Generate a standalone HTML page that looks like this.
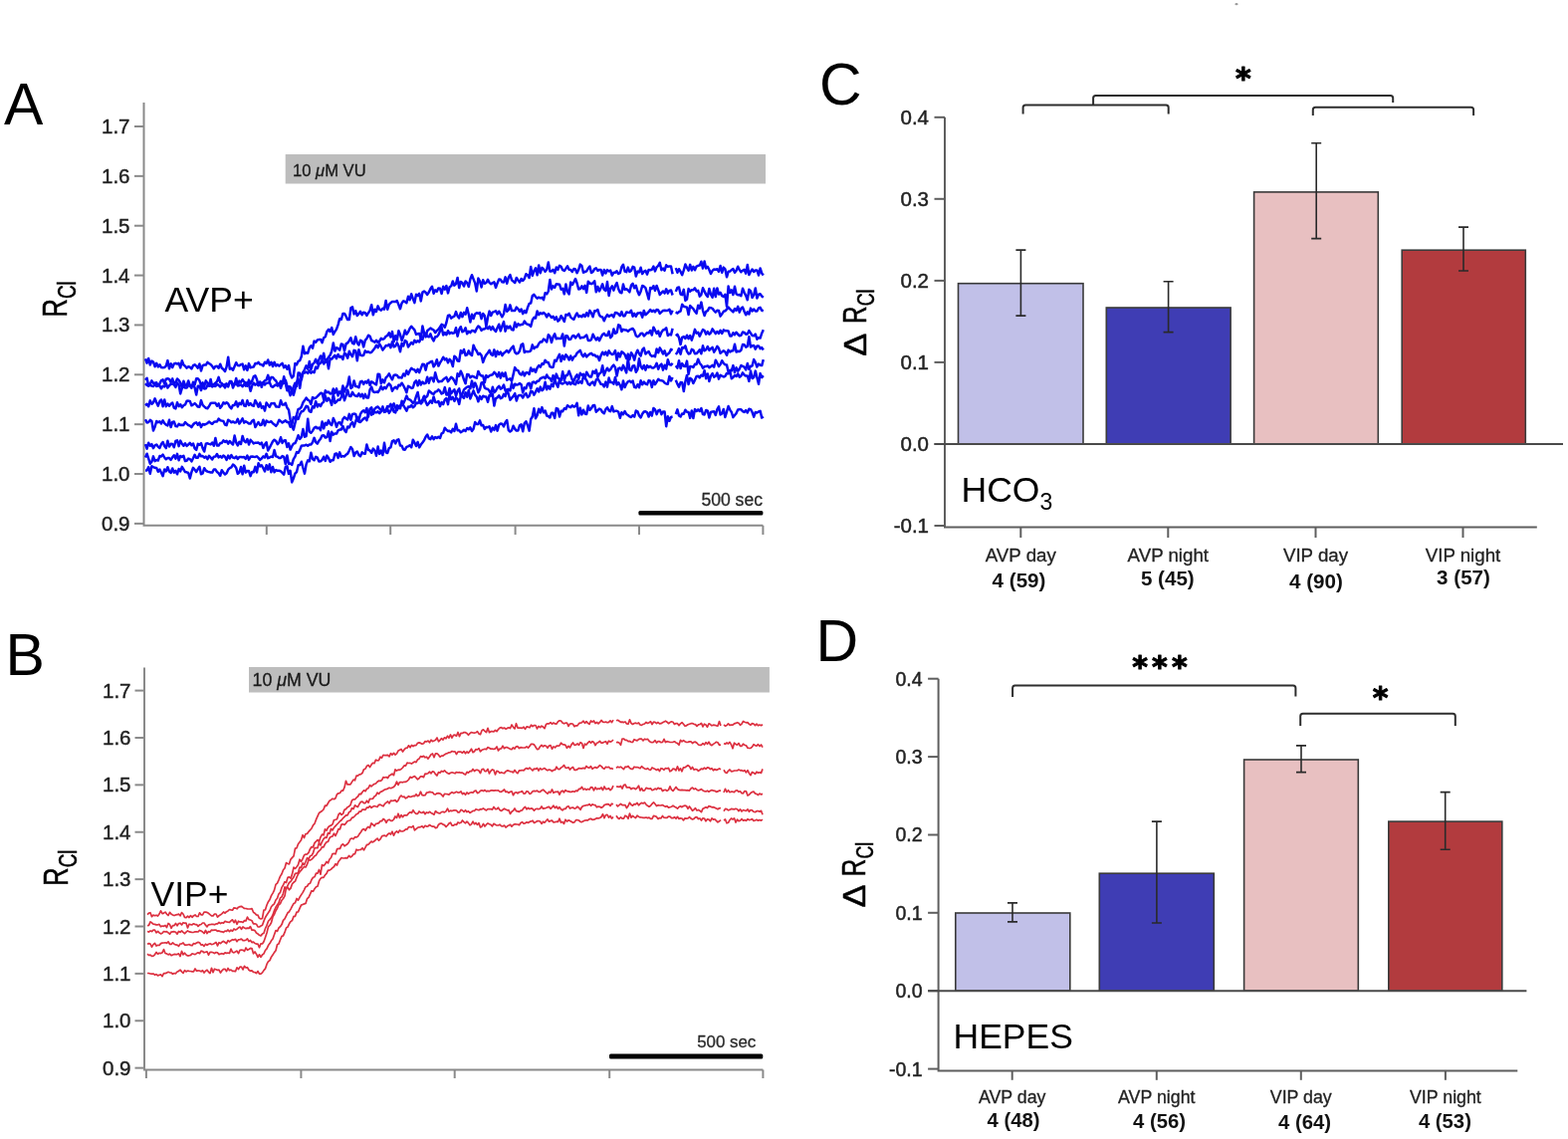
<!DOCTYPE html><html><head><meta charset="utf-8"><title>Figure</title><style>
html,body{margin:0;padding:0;background:#fff;overflow:hidden;}svg{display:block;}
text{font-family:"Liberation Sans", Arial, Helvetica, sans-serif;}
</style></head><body>
<svg width="1575" height="1144" viewBox="0 0 1575 1144">
<rect width="1575" height="1144" fill="#fff"/>
<g stroke="#8a8a8a" stroke-width="2" fill="none">
<path d="M144.5,103 V527.8 H766.4"/>
<path d="M135.0,127.0 H144.5"/>
<path d="M135.0,176.86 H144.5"/>
<path d="M135.0,226.72 H144.5"/>
<path d="M135.0,276.58 H144.5"/>
<path d="M135.0,326.44 H144.5"/>
<path d="M135.0,376.3 H144.5"/>
<path d="M135.0,426.15999999999997 H144.5"/>
<path d="M135.0,476.02 H144.5"/>
<path d="M135.0,525.88 H144.5"/>
<path d="M267.8,527.8 V537"/>
<path d="M392.2,527.8 V537"/>
<path d="M517.6,527.8 V537"/>
<path d="M642.0,527.8 V537"/>
<path d="M766.4,527.8 V537"/>
</g>
<text x="130.5" y="134.0" font-size="20.5" text-anchor="end" font-weight="normal" fill="#222" stroke="#222" stroke-width="0.45">1.7</text>
<text x="130.5" y="183.9" font-size="20.5" text-anchor="end" font-weight="normal" fill="#222" stroke="#222" stroke-width="0.45">1.6</text>
<text x="130.5" y="233.7" font-size="20.5" text-anchor="end" font-weight="normal" fill="#222" stroke="#222" stroke-width="0.45">1.5</text>
<text x="130.5" y="283.6" font-size="20.5" text-anchor="end" font-weight="normal" fill="#222" stroke="#222" stroke-width="0.45">1.4</text>
<text x="130.5" y="333.4" font-size="20.5" text-anchor="end" font-weight="normal" fill="#222" stroke="#222" stroke-width="0.45">1.3</text>
<text x="130.5" y="383.3" font-size="20.5" text-anchor="end" font-weight="normal" fill="#222" stroke="#222" stroke-width="0.45">1.2</text>
<text x="130.5" y="433.2" font-size="20.5" text-anchor="end" font-weight="normal" fill="#222" stroke="#222" stroke-width="0.45">1.1</text>
<text x="130.5" y="483.0" font-size="20.5" text-anchor="end" font-weight="normal" fill="#222" stroke="#222" stroke-width="0.45">1.0</text>
<text x="130.5" y="532.9" font-size="20.5" text-anchor="end" font-weight="normal" fill="#222" stroke="#222" stroke-width="0.45">0.9</text>
<rect x="286.7" y="155" width="482.3" height="29.5" fill="#bdbdbd"/>
<text x="294" y="176.7" font-size="16.6" text-anchor="start" font-weight="normal" fill="#1a1a1a" stroke="#1a1a1a" stroke-width="0.3">10 <tspan font-style="italic">μ</tspan>M VU</text>
<rect x="641.4" y="513.1" width="125" height="4.5" rx="1.5" fill="#000"/>
<text x="766" y="508.4" font-size="17.6" text-anchor="end" font-weight="normal" fill="#2a2a2a" stroke="#2a2a2a" stroke-width="0.3">500 sec</text>
<text x="4" y="124.9" font-size="59" text-anchor="start" font-weight="normal" fill="#000" >A</text>
<text x="165.5" y="312.7" font-size="35.5" text-anchor="start" font-weight="normal" fill="#000" >AVP+</text>
<text transform="translate(67.3,318.7) rotate(-90) scale(0.74,1)" font-size="35" fill="#000" stroke="#000" stroke-width="0.5">R<tspan font-size="25.5" dy="8.7">Cl</tspan></text>
<g fill="none" stroke="#0a0af0" stroke-width="2.5" stroke-linejoin="round">
<path d="M146.0,360.4 147.6,364.6 149.2,360.0 150.8,366.4 152.4,362.6 154.0,363.5 155.6,368.2 157.2,364.8 158.8,368.4 160.4,366.2 162.0,369.1 163.6,369.2 165.2,369.0 166.8,367.6 168.4,362.1 170.0,370.3 171.6,365.3 173.2,369.1 174.8,365.5 176.4,364.8 178.0,365.6 179.6,364.9 181.2,369.4 182.8,362.3 184.4,366.5 186.0,367.7 187.6,369.6 189.2,368.3 190.8,368.8 192.4,370.4 194.0,367.2 195.6,366.3 197.2,367.6 198.8,369.6 200.4,365.5 202.0,372.5 203.6,367.2 205.2,366.5 206.8,366.6 208.4,363.9 210.0,365.1 211.6,366.0 213.2,367.8 214.8,370.3 216.4,367.9 218.0,367.8 219.6,369.8 221.2,365.7 222.8,369.8 224.4,370.9 226.0,373.0 227.6,368.4 229.2,358.7 230.8,370.7 232.4,369.8 234.0,371.8 235.6,368.1 237.2,364.2 238.8,367.0 240.4,367.2 242.0,366.1 243.6,365.6 245.2,371.3 246.8,367.3 248.4,371.9 250.0,365.1 251.6,369.3 253.2,368.7 254.8,368.6 256.4,364.9 258.0,365.3 259.6,363.9 261.2,366.1 262.8,366.2 264.4,367.4 266.0,363.7 267.6,365.0 269.2,361.5 270.8,366.7 272.4,363.8 274.0,368.0 275.6,363.8 277.2,367.5 278.8,366.2 280.4,367.6 282.0,366.1 283.6,364.9 285.2,369.2 286.8,367.3 288.4,370.8 290.0,367.1 291.6,375.8 293.2,379.4 294.8,377.7 296.4,365.1 298.0,366.2 299.6,362.8 301.2,362.1 302.8,358.0 304.4,347.8 306.0,355.2 307.6,354.3 309.2,354.7 310.8,349.3 312.4,347.2 314.0,349.6 315.6,342.6 317.2,343.7 318.8,341.5 320.4,341.1 322.0,340.9 323.6,344.1 325.2,339.2 326.8,338.2 328.4,333.1 330.0,330.9 331.6,333.1 333.2,329.1 334.8,335.9 336.4,333.0 338.0,330.6 339.6,326.1 341.2,320.2 342.8,321.0 344.4,315.0 346.0,315.0 347.6,317.7 349.2,321.1 350.8,321.1 352.4,309.4 354.0,308.3 355.6,315.4 357.2,312.2 358.8,317.0 360.4,315.2 362.0,312.8 363.6,316.3 365.2,313.7 366.8,314.2 368.4,316.9 370.0,314.2 371.6,311.9 373.2,306.2 374.8,316.3 376.4,310.8 378.0,312.9 379.6,307.4 381.2,310.8 382.8,311.6 384.4,309.7 386.0,310.6 387.6,301.9 389.2,310.8 390.8,305.8 392.4,304.2 394.0,302.9 395.6,303.1 397.2,303.1 398.8,302.1 400.4,306.0 402.0,310.2 403.6,304.4 405.2,302.3 406.8,303.0 408.4,304.3 410.0,297.7 411.6,301.3 413.2,295.3 414.8,300.0 416.4,304.1 418.0,295.8 419.6,296.9 421.2,294.9 422.8,302.4 424.4,293.6 426.0,292.6 427.6,293.7 429.2,295.9 430.8,293.5 432.4,289.9 434.0,287.7 435.6,294.7 437.2,291.4 438.8,292.8 440.4,289.4 442.0,289.8 443.6,294.9 445.2,287.8 446.8,290.7 448.4,287.1 450.0,294.4 451.6,288.3 453.2,287.3 454.8,282.5 456.4,286.7 458.0,285.1 459.6,278.9 461.2,289.1 462.8,282.9 464.4,284.1 466.0,287.5 467.6,282.5 469.2,284.1 470.8,288.0 472.4,280.3 474.0,276.2 475.6,280.4 477.2,284.4 478.8,292.4 480.4,279.6 482.0,282.4 483.6,288.5 485.2,281.3 486.8,284.8 488.4,284.0 490.0,280.8 491.6,283.9 493.2,285.2 494.8,284.1 496.4,283.4 498.0,288.8 499.6,284.4 501.2,280.6 502.8,280.8 504.4,283.3 506.0,283.5 507.6,278.4 509.2,284.7 510.8,278.7 512.4,276.1 514.0,281.2 515.6,282.6 517.2,284.0 518.8,279.0 520.4,281.4 522.0,283.5 523.6,280.0 525.2,281.9 526.8,279.9 528.4,275.2 530.0,276.3 531.6,279.0 533.2,268.0 534.8,276.9 536.4,272.2 538.0,269.3 539.6,276.3 541.2,266.4 542.8,274.2 544.4,268.9 546.0,270.3 547.6,272.8 549.2,270.7 550.8,263.4 552.4,272.6 554.0,272.4 555.6,270.9 557.2,274.1 558.8,268.5 560.4,270.9 562.0,266.8 563.6,267.8 565.2,271.2 566.8,272.0 568.4,269.8 570.0,267.4 571.6,270.7 573.2,271.0 574.8,273.0 576.4,270.0 578.0,270.5 579.6,274.2 581.2,270.8 582.8,265.6 584.4,267.0 586.0,273.7 587.6,273.0 589.2,272.4 590.8,269.6 592.4,267.6 594.0,274.0 595.6,272.9 597.2,270.2 598.8,269.3 600.4,271.8 602.0,270.9 603.6,271.1 605.2,276.5 606.8,271.0 608.4,274.5 610.0,271.1 611.6,272.4 613.2,271.6 614.8,276.5 616.4,273.8 618.0,273.7 619.6,272.3 621.2,275.0 622.8,274.2 624.4,268.2 626.0,265.8 627.6,272.6 629.2,273.2 630.8,268.6 632.4,272.9 634.0,271.8 635.6,267.9 637.2,268.6 638.8,277.5 640.4,272.6 642.0,273.5 643.6,268.8 645.2,275.1 646.8,272.8 648.4,271.8 650.0,275.6 651.6,270.9 653.2,271.2 654.8,270.8 656.4,267.6 658.0,272.4 659.6,268.3 661.2,266.8 662.8,263.9 664.4,271.2 666.0,269.5 667.6,271.7 669.2,266.3 670.8,267.8 672.4,267.6 674.0,267.5 675.6,275.2M678.8,269.2 680.4,273.7 682.0,270.2 683.6,272.9 685.2,276.1 686.8,271.4 688.4,265.5 690.0,268.9 691.6,271.7 693.2,265.9 694.8,271.5 696.4,267.8 698.0,271.3 699.6,267.6 701.2,266.8 702.8,266.6 704.4,262.7 706.0,269.6 707.6,262.5 709.2,269.5 710.8,267.8 712.4,271.0 714.0,275.0 715.6,271.9 717.2,270.5 718.8,270.7 720.4,270.3 722.0,272.7 723.6,267.0 725.2,273.8 726.8,268.6 728.4,270.3 730.0,278.3 731.6,272.8 733.2,272.5 734.8,271.1 736.4,270.1 738.0,273.8 739.6,271.7 741.2,267.7 742.8,271.1 744.4,273.2 746.0,271.7 747.6,270.7 749.2,274.7 750.8,266.0 752.4,276.0 754.0,272.7 755.6,270.5 757.2,273.0 758.8,271.5 760.4,271.4 762.0,276.5 763.6,269.4 765.2,274.4 766.8,276.6"/>
<path d="M146.0,381.8 147.6,379.8 149.2,387.7 150.8,385.8 152.4,382.4 154.0,384.7 155.6,384.8 157.2,384.2 158.8,387.4 160.4,385.4 162.0,382.1 163.6,381.4 165.2,385.4 166.8,380.6 168.4,380.2 170.0,380.9 171.6,384.0 173.2,380.4 174.8,385.7 176.4,384.0 178.0,380.5 179.6,381.9 181.2,384.5 182.8,389.6 184.4,382.8 186.0,387.0 187.6,387.3 189.2,382.5 190.8,387.5 192.4,389.8 194.0,383.8 195.6,386.5 197.2,380.3 198.8,380.2 200.4,382.3 202.0,386.8 203.6,384.4 205.2,387.9 206.8,382.4 208.4,384.7 210.0,387.6 211.6,380.9 213.2,388.5 214.8,386.2 216.4,384.6 218.0,383.1 219.6,378.9 221.2,384.2 222.8,385.0 224.4,387.6 226.0,386.3 227.6,385.2 229.2,388.5 230.8,383.1 232.4,383.0 234.0,389.5 235.6,385.6 237.2,384.7 238.8,387.5 240.4,382.6 242.0,383.9 243.6,381.2 245.2,383.7 246.8,384.4 248.4,387.8 250.0,381.6 251.6,385.5 253.2,382.6 254.8,378.2 256.4,377.3 258.0,381.0 259.6,386.8 261.2,383.5 262.8,388.8 264.4,384.0 266.0,382.3 267.6,381.5 269.2,376.9 270.8,382.9 272.4,378.9 274.0,379.0 275.6,381.1 277.2,382.5 278.8,385.6 280.4,386.8 282.0,382.8 283.6,385.7 285.2,378.2 286.8,385.3 288.4,392.2 290.0,388.3 291.6,388.5 293.2,393.8 294.8,388.6 296.4,384.7 298.0,388.0 299.6,374.6 301.2,374.7 302.8,381.4 304.4,374.0 306.0,371.1 307.6,367.3 309.2,370.8 310.8,362.9 312.4,371.1 314.0,365.8 315.6,364.3 317.2,360.9 318.8,365.1 320.4,361.3 322.0,357.5 323.6,360.6 325.2,354.9 326.8,363.8 328.4,361.4 330.0,358.8 331.6,356.7 333.2,352.8 334.8,344.4 336.4,352.6 338.0,349.2 339.6,350.1 341.2,351.6 342.8,345.6 344.4,345.9 346.0,352.5 347.6,345.4 349.2,344.4 350.8,342.2 352.4,339.3 354.0,344.7 355.6,345.5 357.2,338.2 358.8,344.4 360.4,346.5 362.0,341.8 363.6,342.6 365.2,348.4 366.8,341.9 368.4,340.0 370.0,336.7 371.6,337.8 373.2,342.0 374.8,342.7 376.4,343.8 378.0,341.7 379.6,344.0 381.2,342.7 382.8,339.9 384.4,340.8 386.0,340.1 387.6,337.8 389.2,337.0 390.8,334.3 392.4,338.5 394.0,333.1 395.6,343.3 397.2,337.3 398.8,341.5 400.4,332.3 402.0,336.1 403.6,342.0 405.2,337.8 406.8,331.8 408.4,335.7 410.0,333.6 411.6,329.9 413.2,327.7 414.8,329.6 416.4,331.4 418.0,335.9 419.6,335.3 421.2,335.1 422.8,340.1 424.4,327.6 426.0,334.3 427.6,338.4 429.2,332.3 430.8,330.9 432.4,329.6 434.0,330.6 435.6,331.5 437.2,334.2 438.8,332.1 440.4,330.8 442.0,328.5 443.6,325.9 445.2,326.6 446.8,328.8 448.4,324.0 450.0,316.9 451.6,316.5 453.2,319.6 454.8,318.4 456.4,317.7 458.0,313.1 459.6,317.4 461.2,319.5 462.8,314.0 464.4,318.2 466.0,313.9 467.6,315.7 469.2,309.2 470.8,315.7 472.4,323.5 474.0,315.7 475.6,320.0 477.2,315.4 478.8,314.2 480.4,314.8 482.0,314.1 483.6,320.1 485.2,315.0 486.8,317.0 488.4,328.0 490.0,318.7 491.6,312.6 493.2,317.0 494.8,313.6 496.4,313.1 498.0,312.3 499.6,315.5 501.2,312.7 502.8,315.5 504.4,318.3 506.0,315.2 507.6,306.1 509.2,312.8 510.8,311.4 512.4,306.4 514.0,312.1 515.6,312.1 517.2,312.1 518.8,308.6 520.4,310.4 522.0,312.7 523.6,310.5 525.2,315.1 526.8,312.1 528.4,314.1 530.0,308.9 531.6,304.9 533.2,304.5 534.8,297.0 536.4,295.9 538.0,298.1 539.6,299.6 541.2,298.7 542.8,299.4 544.4,298.8 546.0,301.1 547.6,294.3 549.2,295.3 550.8,292.5 552.4,281.0 554.0,290.4 555.6,287.3 557.2,288.8 558.8,285.3 560.4,285.4 562.0,285.7 563.6,290.6 565.2,289.8 566.8,295.3 568.4,285.4 570.0,292.8 571.6,295.4 573.2,283.5 574.8,286.0 576.4,283.3 578.0,280.0 579.6,284.5 581.2,290.4 582.8,290.1 584.4,287.4 586.0,290.2 587.6,286.8 589.2,293.9 590.8,282.7 592.4,284.5 594.0,285.2 595.6,284.4 597.2,282.3 598.8,293.3 600.4,287.9 602.0,292.4 603.6,289.1 605.2,285.3 606.8,290.8 608.4,292.0 610.0,283.1 611.6,296.9 613.2,289.7 614.8,287.4 616.4,291.6 618.0,287.0 619.6,284.0 621.2,290.3 622.8,293.6 624.4,294.3 626.0,285.6 627.6,291.0 629.2,290.2 630.8,291.5 632.4,293.3 634.0,286.7 635.6,284.9 637.2,289.3 638.8,286.9 640.4,292.5 642.0,296.2 643.6,292.7 645.2,287.0 646.8,287.7 648.4,289.1 650.0,294.7 651.6,300.5 653.2,289.1 654.8,290.0 656.4,287.2 658.0,291.8 659.6,287.0 661.2,291.1 662.8,296.0 664.4,294.1 666.0,292.5 667.6,294.6 669.2,290.3 670.8,294.6 672.4,291.9 674.0,291.5 675.6,296.5M678.8,292.9 680.4,288.9 682.0,288.5 683.6,295.5 685.2,296.1 686.8,290.9 688.4,301.9 690.0,300.5 691.6,290.1 693.2,292.6 694.8,291.2 696.4,291.3 698.0,289.4 699.6,292.5 701.2,291.8 702.8,297.6 704.4,295.8 706.0,289.2 707.6,292.6 709.2,295.9 710.8,297.9 712.4,290.0 714.0,295.7 715.6,298.8 717.2,289.7 718.8,298.1 720.4,289.4 722.0,295.5 723.6,293.9 725.2,297.1 726.8,298.0 728.4,295.7 730.0,307.8 731.6,287.6 733.2,294.0 734.8,291.3 736.4,296.0 738.0,287.7 739.6,295.3 741.2,296.3 742.8,296.1 744.4,297.1 746.0,289.7 747.6,293.8 749.2,296.8 750.8,301.2 752.4,290.8 754.0,292.4 755.6,298.9 757.2,296.1 758.8,289.4 760.4,299.6 762.0,295.7 763.6,295.2 765.2,297.5 766.8,298.7"/>
<path d="M146.0,385.2 147.6,387.0 149.2,387.3 150.8,386.6 152.4,387.6 154.0,388.1 155.6,385.8 157.2,388.0 158.8,387.2 160.4,387.3 162.0,390.3 163.6,387.7 165.2,388.5 166.8,385.1 168.4,389.5 170.0,387.3 171.6,385.7 173.2,385.4 174.8,386.3 176.4,388.9 178.0,384.4 179.6,386.6 181.2,395.4 182.8,390.0 184.4,387.8 186.0,389.6 187.6,389.4 189.2,387.2 190.8,386.7 192.4,387.8 194.0,387.1 195.6,389.2 197.2,396.6 198.8,387.8 200.4,387.8 202.0,392.0 203.6,387.0 205.2,390.4 206.8,390.3 208.4,386.9 210.0,386.8 211.6,387.6 213.2,386.2 214.8,387.8 216.4,387.9 218.0,385.9 219.6,386.9 221.2,388.5 222.8,386.5 224.4,386.5 226.0,389.4 227.6,386.2 229.2,386.8 230.8,384.3 232.4,383.6 234.0,386.0 235.6,386.5 237.2,380.0 238.8,386.8 240.4,387.2 242.0,386.4 243.6,388.3 245.2,385.8 246.8,387.6 248.4,384.3 250.0,386.2 251.6,392.8 253.2,387.3 254.8,384.6 256.4,386.6 258.0,385.4 259.6,387.3 261.2,383.8 262.8,385.5 264.4,384.4 266.0,386.4 267.6,384.7 269.2,384.5 270.8,384.1 272.4,387.9 274.0,388.8 275.6,387.4 277.2,386.4 278.8,387.6 280.4,385.1 282.0,389.8 283.6,384.8 285.2,384.8 286.8,381.9 288.4,387.1 290.0,391.8 291.6,397.2 293.2,392.7 294.8,396.8 296.4,390.9 298.0,384.7 299.6,380.4 301.2,389.8 302.8,378.8 304.4,374.0 306.0,374.5 307.6,373.5 309.2,374.9 310.8,372.2 312.4,374.6 314.0,373.3 315.6,374.2 317.2,368.6 318.8,370.0 320.4,365.6 322.0,364.6 323.6,361.6 325.2,365.5 326.8,363.1 328.4,361.0 330.0,370.2 331.6,360.2 333.2,360.6 334.8,358.6 336.4,356.9 338.0,360.1 339.6,356.0 341.2,358.7 342.8,357.9 344.4,361.0 346.0,354.8 347.6,355.7 349.2,359.7 350.8,352.8 352.4,356.2 354.0,358.1 355.6,351.8 357.2,352.5 358.8,362.2 360.4,351.2 362.0,356.6 363.6,357.2 365.2,356.8 366.8,352.4 368.4,353.7 370.0,353.2 371.6,354.2 373.2,353.8 374.8,351.8 376.4,349.8 378.0,346.7 379.6,349.2 381.2,345.5 382.8,348.1 384.4,351.6 386.0,349.5 387.6,347.1 389.2,347.3 390.8,345.8 392.4,349.2 394.0,343.4 395.6,348.4 397.2,347.6 398.8,344.4 400.4,347.4 402.0,353.2 403.6,344.8 405.2,347.5 406.8,342.0 408.4,343.0 410.0,348.5 411.6,346.3 413.2,344.1 414.8,345.7 416.4,341.8 418.0,343.7 419.6,342.3 421.2,343.4 422.8,339.6 424.4,341.0 426.0,335.7 427.6,334.7 429.2,337.9 430.8,338.4 432.4,335.4 434.0,339.7 435.6,342.4 437.2,338.2 438.8,338.3 440.4,336.2 442.0,332.4 443.6,328.7 445.2,336.6 446.8,334.0 448.4,336.3 450.0,332.2 451.6,335.1 453.2,333.9 454.8,334.8 456.4,334.4 458.0,329.3 459.6,337.7 461.2,331.2 462.8,328.2 464.4,333.3 466.0,332.5 467.6,329.4 469.2,335.3 470.8,332.7 472.4,334.1 474.0,331.9 475.6,332.2 477.2,333.4 478.8,330.0 480.4,327.5 482.0,328.8 483.6,331.9 485.2,330.5 486.8,330.5 488.4,328.8 490.0,330.1 491.6,327.9 493.2,331.2 494.8,328.1 496.4,331.1 498.0,333.0 499.6,329.3 501.2,325.7 502.8,332.4 504.4,327.5 506.0,323.1 507.6,332.7 509.2,327.6 510.8,329.5 512.4,327.7 514.0,331.1 515.6,331.4 517.2,323.8 518.8,328.4 520.4,325.2 522.0,326.6 523.6,326.0 525.2,325.8 526.8,322.5 528.4,325.0 530.0,325.8 531.6,326.3 533.2,327.8 534.8,321.5 536.4,318.9 538.0,319.6 539.6,312.4 541.2,316.2 542.8,314.2 544.4,315.2 546.0,314.0 547.6,315.4 549.2,318.4 550.8,315.2 552.4,317.0 554.0,318.9 555.6,317.8 557.2,321.0 558.8,318.4 560.4,322.6 562.0,321.3 563.6,317.2 565.2,319.6 566.8,323.0 568.4,316.0 570.0,316.6 571.6,314.8 573.2,318.6 574.8,319.9 576.4,320.8 578.0,317.2 579.6,314.5 581.2,318.1 582.8,317.2 584.4,318.3 586.0,316.1 587.6,318.0 589.2,314.2 590.8,317.5 592.4,311.9 594.0,314.4 595.6,318.3 597.2,312.3 598.8,312.4 600.4,311.0 602.0,316.3 603.6,318.1 605.2,318.5 606.8,322.3 608.4,318.6 610.0,316.1 611.6,317.9 613.2,316.8 614.8,316.3 616.4,318.4 618.0,313.9 619.6,314.3 621.2,315.4 622.8,317.1 624.4,313.1 626.0,317.4 627.6,317.3 629.2,313.6 630.8,313.8 632.4,313.9 634.0,311.8 635.6,317.7 637.2,314.8 638.8,317.8 640.4,314.6 642.0,314.4 643.6,314.0 645.2,318.7 646.8,311.9 648.4,316.2 650.0,314.8 651.6,313.2 653.2,311.1 654.8,312.9 656.4,311.7 658.0,313.4 659.6,311.0 661.2,311.5 662.8,314.9 664.4,313.4 666.0,311.9 667.6,311.7 669.2,312.0 670.8,311.7 672.4,310.7 674.0,315.3 675.6,311.7M678.8,313.2 680.4,314.6 682.0,313.2 683.6,312.5 685.2,305.7 686.8,307.8 688.4,308.2 690.0,308.6 691.6,316.0 693.2,307.0 694.8,308.7 696.4,310.1 698.0,312.8 699.6,314.7 701.2,306.7 702.8,309.8 704.4,303.6 706.0,311.8 707.6,317.0 709.2,312.9 710.8,312.1 712.4,309.0 714.0,309.2 715.6,309.8 717.2,312.0 718.8,313.7 720.4,311.8 722.0,312.0 723.6,317.6 725.2,315.3 726.8,312.8 728.4,312.3 730.0,310.6 731.6,308.6 733.2,310.3 734.8,311.9 736.4,313.4 738.0,310.1 739.6,311.8 741.2,307.9 742.8,313.6 744.4,309.8 746.0,308.6 747.6,312.7 749.2,316.3 750.8,313.3 752.4,315.5 754.0,309.6 755.6,312.5 757.2,310.5 758.8,312.5 760.4,312.4 762.0,309.5 763.6,308.9 765.2,311.8 766.8,312.3"/>
<path d="M146.0,407.2 147.6,405.8 149.2,408.2 150.8,402.4 152.4,405.8 154.0,404.3 155.6,400.3 157.2,404.2 158.8,407.7 160.4,403.1 162.0,401.5 163.6,408.2 165.2,401.4 166.8,408.2 168.4,405.6 170.0,407.7 171.6,405.8 173.2,404.6 174.8,409.7 176.4,410.4 178.0,404.3 179.6,408.1 181.2,406.2 182.8,409.1 184.4,407.2 186.0,406.4 187.6,402.8 189.2,402.6 190.8,403.0 192.4,407.3 194.0,406.4 195.6,405.1 197.2,406.7 198.8,408.6 200.4,408.7 202.0,402.1 203.6,406.8 205.2,408.4 206.8,409.8 208.4,410.2 210.0,408.0 211.6,405.1 213.2,404.8 214.8,404.7 216.4,404.7 218.0,407.8 219.6,405.4 221.2,409.8 222.8,407.8 224.4,404.3 226.0,405.5 227.6,404.2 229.2,405.5 230.8,408.7 232.4,410.3 234.0,406.9 235.6,407.1 237.2,403.3 238.8,408.4 240.4,404.8 242.0,406.1 243.6,402.0 245.2,407.5 246.8,407.9 248.4,402.3 250.0,406.9 251.6,405.1 253.2,407.2 254.8,407.8 256.4,402.1 258.0,405.1 259.6,408.7 261.2,404.5 262.8,409.7 264.4,408.1 266.0,412.5 267.6,404.5 269.2,406.8 270.8,408.8 272.4,405.3 274.0,405.3 275.6,405.1 277.2,408.4 278.8,408.6 280.4,408.7 282.0,402.2 283.6,406.5 285.2,406.6 286.8,404.8 288.4,409.6 290.0,411.8 291.6,421.3 293.2,427.1 294.8,419.1 296.4,420.4 298.0,416.7 299.6,410.9 301.2,410.5 302.8,408.6 304.4,404.2 306.0,402.1 307.6,399.6 309.2,401.7 310.8,402.5 312.4,406.0 314.0,399.1 315.6,400.2 317.2,399.6 318.8,398.1 320.4,396.5 322.0,394.8 323.6,395.1 325.2,401.3 326.8,392.3 328.4,394.2 330.0,393.6 331.6,395.5 333.2,395.3 334.8,390.5 336.4,394.7 338.0,390.4 339.6,397.4 341.2,393.3 342.8,395.6 344.4,387.6 346.0,393.5 347.6,389.5 349.2,386.8 350.8,378.6 352.4,389.9 354.0,388.8 355.6,382.4 357.2,388.1 358.8,388.3 360.4,389.3 362.0,383.4 363.6,382.8 365.2,385.9 366.8,383.2 368.4,384.6 370.0,381.7 371.6,386.9 373.2,383.3 374.8,384.3 376.4,385.5 378.0,386.4 379.6,375.7 381.2,376.0 382.8,385.3 384.4,381.4 386.0,384.3 387.6,379.4 389.2,377.8 390.8,375.3 392.4,378.6 394.0,381.3 395.6,377.0 397.2,376.5 398.8,376.9 400.4,379.2 402.0,379.1 403.6,379.5 405.2,375.5 406.8,377.5 408.4,372.4 410.0,376.0 411.6,372.4 413.2,369.9 414.8,371.0 416.4,371.5 418.0,373.8 419.6,370.9 421.2,374.1 422.8,369.9 424.4,365.7 426.0,365.9 427.6,371.7 429.2,365.3 430.8,364.6 432.4,363.5 434.0,362.8 435.6,368.3 437.2,366.0 438.8,361.2 440.4,367.6 442.0,364.4 443.6,361.8 445.2,358.7 446.8,361.4 448.4,360.1 450.0,364.3 451.6,360.9 453.2,362.8 454.8,368.0 456.4,357.7 458.0,359.0 459.6,362.6 461.2,362.8 462.8,352.1 464.4,354.5 466.0,351.0 467.6,356.9 469.2,356.3 470.8,352.3 472.4,355.8 474.0,357.0 475.6,346.7 477.2,350.4 478.8,352.6 480.4,356.0 482.0,354.9 483.6,357.0 485.2,363.9 486.8,359.3 488.4,356.4 490.0,354.5 491.6,351.8 493.2,355.8 494.8,356.9 496.4,351.4 498.0,358.1 499.6,352.7 501.2,355.9 502.8,353.5 504.4,357.1 506.0,354.7 507.6,353.5 509.2,352.0 510.8,354.1 512.4,351.7 514.0,349.3 515.6,347.7 517.2,353.8 518.8,355.2 520.4,354.7 522.0,352.5 523.6,346.3 525.2,345.3 526.8,354.0 528.4,352.9 530.0,353.3 531.6,353.1 533.2,352.1 534.8,346.4 536.4,350.2 538.0,348.5 539.6,348.4 541.2,345.2 542.8,343.3 544.4,343.4 546.0,340.6 547.6,341.5 549.2,343.5 550.8,336.2 552.4,338.0 554.0,344.0 555.6,338.4 557.2,335.4 558.8,340.3 560.4,339.8 562.0,339.9 563.6,339.9 565.2,335.5 566.8,347.6 568.4,337.3 570.0,337.6 571.6,341.0 573.2,340.8 574.8,337.7 576.4,337.0 578.0,339.4 579.6,337.5 581.2,335.7 582.8,339.6 584.4,339.0 586.0,339.1 587.6,337.9 589.2,336.5 590.8,341.9 592.4,342.1 594.0,341.0 595.6,335.8 597.2,338.9 598.8,341.4 600.4,339.1 602.0,342.1 603.6,338.9 605.2,336.1 606.8,334.9 608.4,337.1 610.0,337.0 611.6,332.9 613.2,339.2 614.8,337.5 616.4,330.4 618.0,334.9 619.6,334.0 621.2,326.3 622.8,327.2 624.4,333.0 626.0,330.8 627.6,331.4 629.2,331.5 630.8,332.8 632.4,331.3 634.0,330.5 635.6,330.0 637.2,332.3 638.8,337.2 640.4,338.2 642.0,337.2 643.6,335.0 645.2,334.7 646.8,337.5 648.4,335.9 650.0,334.2 651.6,334.6 653.2,332.0 654.8,336.5 656.4,328.7 658.0,331.7 659.6,335.0 661.2,332.6 662.8,337.8 664.4,333.7 666.0,331.5 667.6,331.0 669.2,329.3 670.8,337.1 672.4,335.7 674.0,336.4 675.6,329.9M678.8,337.3 680.4,335.9 682.0,339.1 683.6,346.1 685.2,338.8 686.8,338.1 688.4,340.0 690.0,336.7 691.6,340.1 693.2,337.0 694.8,341.7 696.4,336.9 698.0,330.9 699.6,334.7 701.2,333.8 702.8,337.7 704.4,334.2 706.0,331.0 707.6,332.0 709.2,335.7 710.8,333.1 712.4,335.7 714.0,334.3 715.6,330.4 717.2,332.7 718.8,335.1 720.4,333.0 722.0,335.0 723.6,331.8 725.2,334.9 726.8,331.4 728.4,332.3 730.0,332.3 731.6,332.5 733.2,337.4 734.8,337.4 736.4,334.2 738.0,336.2 739.6,333.7 741.2,335.8 742.8,337.2 744.4,336.7 746.0,333.6 747.6,333.9 749.2,335.7 750.8,335.6 752.4,332.1 754.0,334.6 755.6,337.0 757.2,337.3 758.8,335.7 760.4,340.7 762.0,339.2 763.6,339.6 765.2,334.7 766.8,331.2"/>
<path d="M146.0,421.3 147.6,424.5 149.2,424.0 150.8,421.9 152.4,423.0 154.0,432.5 155.6,428.8 157.2,423.0 158.8,424.2 160.4,423.2 162.0,425.5 163.6,422.3 165.2,425.2 166.8,426.7 168.4,427.5 170.0,421.8 171.6,429.0 173.2,424.0 174.8,423.5 176.4,428.0 178.0,428.4 179.6,425.9 181.2,426.9 182.8,426.7 184.4,426.9 186.0,424.0 187.6,425.7 189.2,427.0 190.8,427.6 192.4,429.1 194.0,426.5 195.6,424.9 197.2,424.3 198.8,426.8 200.4,424.6 202.0,429.0 203.6,426.0 205.2,426.7 206.8,426.0 208.4,425.2 210.0,423.5 211.6,424.9 213.2,425.8 214.8,424.0 216.4,423.4 218.0,423.5 219.6,420.6 221.2,422.2 222.8,422.6 224.4,423.0 226.0,426.6 227.6,427.1 229.2,421.7 230.8,422.7 232.4,424.3 234.0,423.4 235.6,424.5 237.2,424.3 238.8,420.9 240.4,425.5 242.0,423.2 243.6,420.4 245.2,424.6 246.8,423.3 248.4,424.3 250.0,425.4 251.6,425.5 253.2,422.8 254.8,421.8 256.4,429.0 258.0,426.4 259.6,424.0 261.2,426.9 262.8,426.7 264.4,421.7 266.0,427.3 267.6,422.6 269.2,423.8 270.8,424.0 272.4,423.2 274.0,425.3 275.6,426.4 277.2,427.9 278.8,425.6 280.4,421.8 282.0,423.1 283.6,424.5 285.2,423.4 286.8,422.4 288.4,424.0 290.0,424.0 291.6,428.6 293.2,427.7 294.8,431.6 296.4,424.9 298.0,419.3 299.6,420.9 301.2,416.1 302.8,413.3 304.4,413.1 306.0,410.8 307.6,407.8 309.2,408.5 310.8,413.2 312.4,413.8 314.0,408.2 315.6,409.4 317.2,403.1 318.8,408.5 320.4,406.0 322.0,408.0 323.6,404.9 325.2,403.6 326.8,397.8 328.4,402.7 330.0,399.8 331.6,402.4 333.2,406.8 334.8,395.6 336.4,404.7 338.0,403.5 339.6,401.5 341.2,401.8 342.8,399.0 344.4,394.3 346.0,402.2 347.6,397.3 349.2,391.7 350.8,397.7 352.4,398.1 354.0,393.9 355.6,396.7 357.2,397.6 358.8,398.0 360.4,395.3 362.0,398.3 363.6,395.8 365.2,400.0 366.8,395.9 368.4,399.5 370.0,399.4 371.6,391.3 373.2,388.6 374.8,393.4 376.4,394.0 378.0,393.6 379.6,393.9 381.2,391.7 382.8,388.0 384.4,391.2 386.0,388.9 387.6,390.2 389.2,387.4 390.8,385.4 392.4,387.1 394.0,392.7 395.6,390.0 397.2,388.7 398.8,390.5 400.4,386.7 402.0,387.4 403.6,384.7 405.2,387.2 406.8,390.4 408.4,394.3 410.0,387.8 411.6,388.6 413.2,389.9 414.8,389.5 416.4,384.2 418.0,382.4 419.6,387.3 421.2,382.1 422.8,386.5 424.4,383.5 426.0,385.3 427.6,384.9 429.2,378.7 430.8,384.7 432.4,379.4 434.0,379.5 435.6,383.4 437.2,374.3 438.8,380.2 440.4,383.5 442.0,383.0 443.6,383.1 445.2,381.3 446.8,380.1 448.4,378.9 450.0,383.2 451.6,381.1 453.2,378.8 454.8,380.0 456.4,382.7 458.0,385.9 459.6,375.3 461.2,377.8 462.8,372.7 464.4,376.3 466.0,381.4 467.6,385.3 469.2,376.0 470.8,376.3 472.4,379.3 474.0,377.8 475.6,378.2 477.2,379.1 478.8,379.7 480.4,372.9 482.0,376.3 483.6,377.5 485.2,377.5 486.8,384.2 488.4,377.1 490.0,378.8 491.6,377.4 493.2,376.7 494.8,376.3 496.4,373.9 498.0,375.4 499.6,378.4 501.2,374.1 502.8,379.6 504.4,374.5 506.0,377.9 507.6,374.4 509.2,381.7 510.8,380.9 512.4,380.3 514.0,382.7 515.6,376.1 517.2,369.1 518.8,371.7 520.4,372.1 522.0,375.5 523.6,376.5 525.2,373.6 526.8,377.4 528.4,374.3 530.0,374.3 531.6,375.9 533.2,369.5 534.8,372.7 536.4,370.8 538.0,373.8 539.6,369.5 541.2,367.1 542.8,368.6 544.4,365.2 546.0,365.8 547.6,361.8 549.2,363.9 550.8,364.1 552.4,368.2 554.0,368.9 555.6,368.7 557.2,361.8 558.8,362.6 560.4,359.0 562.0,355.8 563.6,362.9 565.2,357.1 566.8,361.0 568.4,356.2 570.0,358.3 571.6,361.5 573.2,357.5 574.8,361.6 576.4,358.5 578.0,357.7 579.6,354.6 581.2,353.3 582.8,351.9 584.4,356.1 586.0,358.1 587.6,355.3 589.2,358.4 590.8,356.7 592.4,355.5 594.0,354.8 595.6,356.8 597.2,356.4 598.8,358.2 600.4,357.7 602.0,362.0 603.6,357.1 605.2,353.7 606.8,356.2 608.4,353.6 610.0,357.0 611.6,352.3 613.2,354.8 614.8,356.1 616.4,355.3 618.0,352.1 619.6,361.6 621.2,354.6 622.8,358.4 624.4,353.3 626.0,354.4 627.6,356.1 629.2,360.1 630.8,355.6 632.4,361.0 634.0,354.2 635.6,356.7 637.2,361.6 638.8,355.2 640.4,351.7 642.0,355.2 643.6,357.4 645.2,351.4 646.8,349.5 648.4,355.5 650.0,354.0 651.6,353.0 653.2,356.4 654.8,357.9 656.4,357.3 658.0,358.3 659.6,350.5 661.2,354.3 662.8,349.4 664.4,352.1 666.0,355.5 667.6,352.4 669.2,357.1 670.8,355.6 672.4,354.2 674.0,350.9 675.6,351.8M678.8,356.0 680.4,353.9 682.0,350.1 683.6,355.7 685.2,348.9 686.8,349.6 688.4,347.4 690.0,352.9 691.6,355.4 693.2,355.1 694.8,350.9 696.4,351.6 698.0,355.3 699.6,355.1 701.2,353.4 702.8,351.3 704.4,355.3 706.0,347.3 707.6,352.3 709.2,351.2 710.8,348.0 712.4,351.9 714.0,350.2 715.6,348.9 717.2,353.7 718.8,351.2 720.4,347.9 722.0,349.8 723.6,354.8 725.2,353.4 726.8,352.2 728.4,353.4 730.0,356.8 731.6,351.6 733.2,353.5 734.8,352.4 736.4,352.2 738.0,345.7 739.6,353.6 741.2,352.7 742.8,353.0 744.4,351.7 746.0,346.0 747.6,346.3 749.2,348.6 750.8,347.8 752.4,338.3 754.0,348.6 755.6,347.2 757.2,347.1 758.8,350.7 760.4,347.6 762.0,347.5 763.6,350.1 765.2,349.1 766.8,351.5"/>
<path d="M146.0,446.1 147.6,450.7 149.2,444.7 150.8,447.8 152.4,446.2 154.0,450.2 155.6,447.3 157.2,446.5 158.8,448.6 160.4,450.0 162.0,446.1 163.6,444.0 165.2,448.0 166.8,450.1 168.4,442.8 170.0,448.5 171.6,445.8 173.2,446.0 174.8,449.3 176.4,443.0 178.0,442.4 179.6,448.1 181.2,442.6 182.8,445.7 184.4,447.7 186.0,445.3 187.6,447.9 189.2,446.5 190.8,444.9 192.4,447.3 194.0,445.5 195.6,450.3 197.2,451.9 198.8,445.9 200.4,446.8 202.0,445.2 203.6,450.1 205.2,453.5 206.8,445.8 208.4,445.3 210.0,445.9 211.6,446.4 213.2,444.5 214.8,447.8 216.4,439.9 218.0,447.4 219.6,447.5 221.2,445.1 222.8,444.9 224.4,442.4 226.0,443.9 227.6,442.8 229.2,445.7 230.8,443.0 232.4,445.1 234.0,446.5 235.6,437.6 237.2,444.4 238.8,447.5 240.4,443.8 242.0,445.9 243.6,438.0 245.2,442.9 246.8,444.2 248.4,441.0 250.0,446.5 251.6,441.8 253.2,443.5 254.8,445.5 256.4,444.7 258.0,444.8 259.6,444.5 261.2,446.2 262.8,444.7 264.4,449.9 266.0,446.4 267.6,444.2 269.2,452.4 270.8,449.6 272.4,446.5 274.0,443.4 275.6,441.7 277.2,442.9 278.8,446.2 280.4,444.2 282.0,439.3 283.6,444.9 285.2,442.5 286.8,442.2 288.4,449.0 290.0,445.3 291.6,451.6 293.2,448.2 294.8,445.7 296.4,445.1 298.0,441.8 299.6,437.2 301.2,440.9 302.8,439.0 304.4,430.9 306.0,438.7 307.6,438.0 309.2,420.7 310.8,433.5 312.4,434.7 314.0,432.7 315.6,429.9 317.2,428.8 318.8,430.2 320.4,429.6 322.0,432.1 323.6,423.5 325.2,430.4 326.8,424.7 328.4,426.6 330.0,422.3 331.6,425.7 333.2,427.0 334.8,420.0 336.4,423.5 338.0,428.7 339.6,424.7 341.2,424.3 342.8,426.6 344.4,421.0 346.0,418.9 347.6,420.4 349.2,421.5 350.8,415.9 352.4,421.7 354.0,416.0 355.6,415.6 357.2,415.9 358.8,422.4 360.4,422.2 362.0,415.9 363.6,413.5 365.2,412.2 366.8,414.2 368.4,410.0 370.0,418.4 371.6,410.6 373.2,409.3 374.8,415.8 376.4,410.6 378.0,409.2 379.6,408.5 381.2,410.5 382.8,412.2 384.4,408.4 386.0,413.9 387.6,411.8 389.2,408.1 390.8,408.6 392.4,405.8 394.0,408.5 395.6,405.3 397.2,409.6 398.8,412.0 400.4,408.9 402.0,410.2 403.6,402.8 405.2,405.1 406.8,401.8 408.4,397.6 410.0,401.0 411.6,401.4 413.2,402.8 414.8,404.9 416.4,403.3 418.0,398.2 419.6,394.0 421.2,402.4 422.8,403.5 424.4,401.5 426.0,397.7 427.6,399.3 429.2,397.8 430.8,392.5 432.4,393.8 434.0,395.2 435.6,395.7 437.2,393.5 438.8,393.1 440.4,391.4 442.0,392.8 443.6,395.5 445.2,394.6 446.8,389.1 448.4,396.6 450.0,396.4 451.6,390.0 453.2,395.3 454.8,393.1 456.4,391.2 458.0,397.8 459.6,392.7 461.2,390.4 462.8,397.4 464.4,395.9 466.0,391.4 467.6,390.0 469.2,388.6 470.8,388.1 472.4,390.2 474.0,382.6 475.6,389.4 477.2,384.6 478.8,388.2 480.4,394.2 482.0,391.2 483.6,384.4 485.2,384.1 486.8,389.4 488.4,390.6 490.0,390.7 491.6,392.6 493.2,395.7 494.8,388.7 496.4,394.1 498.0,392.5 499.6,389.6 501.2,387.7 502.8,390.6 504.4,389.6 506.0,386.5 507.6,392.5 509.2,392.4 510.8,390.8 512.4,392.4 514.0,385.0 515.6,389.9 517.2,385.7 518.8,386.6 520.4,386.3 522.0,385.1 523.6,386.2 525.2,394.5 526.8,389.4 528.4,390.2 530.0,385.7 531.6,384.9 533.2,390.4 534.8,383.9 536.4,383.6 538.0,385.0 539.6,382.8 541.2,382.7 542.8,380.2 544.4,379.5 546.0,378.7 547.6,380.2 549.2,376.5 550.8,379.4 552.4,380.0 554.0,382.8 555.6,377.1 557.2,382.2 558.8,375.6 560.4,379.8 562.0,380.4 563.6,382.1 565.2,373.2 566.8,382.2 568.4,377.0 570.0,376.9 571.6,372.7 573.2,376.9 574.8,381.4 576.4,382.7 578.0,378.7 579.6,376.4 581.2,380.8 582.8,374.8 584.4,376.7 586.0,375.7 587.6,380.0 589.2,373.7 590.8,376.5 592.4,378.5 594.0,378.5 595.6,372.9 597.2,374.7 598.8,371.6 600.4,378.6 602.0,375.2 603.6,374.2 605.2,367.2 606.8,376.9 608.4,372.6 610.0,369.7 611.6,372.5 613.2,371.1 614.8,368.4 616.4,366.6 618.0,369.1 619.6,377.4 621.2,370.2 622.8,369.5 624.4,371.7 626.0,366.9 627.6,370.6 629.2,374.4 630.8,360.1 632.4,371.4 634.0,372.2 635.6,367.4 637.2,367.3 638.8,373.8 640.4,371.2 642.0,360.3 643.6,368.0 645.2,370.4 646.8,367.0 648.4,371.7 650.0,367.1 651.6,369.0 653.2,367.8 654.8,369.5 656.4,369.4 658.0,368.2 659.6,364.9 661.2,370.7 662.8,367.2 664.4,365.7 666.0,371.6 667.6,366.8 669.2,370.6 670.8,361.2 672.4,366.0 674.0,366.7 675.6,364.7M678.8,367.3 680.4,369.6 682.0,362.3 683.6,370.1 685.2,365.1 686.8,367.7 688.4,368.0 690.0,362.6 691.6,375.8 693.2,368.0 694.8,368.2 696.4,369.0 698.0,365.8 699.6,365.9 701.2,360.7 702.8,364.8 704.4,366.5 706.0,369.7 707.6,368.3 709.2,368.1 710.8,367.4 712.4,369.2 714.0,368.1 715.6,366.9 717.2,368.6 718.8,361.7 720.4,364.6 722.0,368.1 723.6,366.0 725.2,362.2 726.8,364.9 728.4,366.3 730.0,366.6 731.6,373.4 733.2,371.8 734.8,372.4 736.4,367.1 738.0,374.2 739.6,369.3 741.2,372.7 742.8,370.6 744.4,367.0 746.0,367.8 747.6,368.7 749.2,371.5 750.8,365.0 752.4,370.9 754.0,367.8 755.6,367.5 757.2,361.0 758.8,363.8 760.4,368.5 762.0,365.5 763.6,366.7 765.2,367.1 766.8,361.2"/>
<path d="M146.0,459.5 147.6,455.7 149.2,460.7 150.8,465.7 152.4,463.8 154.0,458.4 155.6,463.1 157.2,461.9 158.8,462.5 160.4,458.1 162.0,458.4 163.6,456.7 165.2,459.5 166.8,461.3 168.4,460.1 170.0,460.1 171.6,461.8 173.2,459.3 174.8,457.3 176.4,460.6 178.0,455.9 179.6,462.3 181.2,458.0 182.8,458.9 184.4,457.8 186.0,463.1 187.6,462.8 189.2,460.6 190.8,461.1 192.4,463.4 194.0,460.2 195.6,456.8 197.2,459.8 198.8,459.8 200.4,455.9 202.0,458.2 203.6,458.0 205.2,459.7 206.8,458.6 208.4,461.1 210.0,457.8 211.6,459.6 213.2,461.5 214.8,458.7 216.4,458.6 218.0,456.0 219.6,459.4 221.2,458.1 222.8,459.7 224.4,457.6 226.0,458.7 227.6,461.9 229.2,457.6 230.8,460.4 232.4,457.1 234.0,459.6 235.6,460.2 237.2,458.5 238.8,461.0 240.4,458.9 242.0,459.0 243.6,459.3 245.2,459.0 246.8,460.8 248.4,457.6 250.0,461.7 251.6,458.8 253.2,458.6 254.8,458.8 256.4,458.9 258.0,458.3 259.6,459.9 261.2,461.9 262.8,460.5 264.4,458.4 266.0,459.6 267.6,455.8 269.2,460.2 270.8,459.5 272.4,458.6 274.0,459.0 275.6,452.1 277.2,458.4 278.8,458.8 280.4,460.1 282.0,459.9 283.6,458.1 285.2,458.8 286.8,466.2 288.4,457.4 290.0,466.1 291.6,465.4 293.2,466.9 294.8,461.1 296.4,458.6 298.0,454.1 299.6,454.8 301.2,451.9 302.8,447.8 304.4,447.5 306.0,447.5 307.6,446.7 309.2,447.8 310.8,446.6 312.4,446.4 314.0,444.2 315.6,439.8 317.2,444.0 318.8,445.6 320.4,442.7 322.0,440.7 323.6,437.4 325.2,437.2 326.8,439.6 328.4,439.0 330.0,433.4 331.6,443.0 333.2,433.8 334.8,436.6 336.4,435.4 338.0,435.6 339.6,432.4 341.2,431.6 342.8,431.4 344.4,428.0 346.0,432.1 347.6,434.0 349.2,428.5 350.8,429.4 352.4,426.0 354.0,423.9 355.6,428.6 357.2,423.5 358.8,418.8 360.4,423.5 362.0,424.0 363.6,422.1 365.2,420.5 366.8,419.5 368.4,422.2 370.0,415.2 371.6,413.5 373.2,416.7 374.8,413.3 376.4,414.3 378.0,414.3 379.6,413.4 381.2,415.1 382.8,413.4 384.4,411.8 386.0,412.4 387.6,413.4 389.2,410.7 390.8,414.9 392.4,412.6 394.0,407.7 395.6,413.7 397.2,414.4 398.8,407.2 400.4,408.4 402.0,407.4 403.6,406.9 405.2,407.0 406.8,409.8 408.4,412.7 410.0,408.6 411.6,408.8 413.2,407.0 414.8,409.2 416.4,408.0 418.0,404.6 419.6,404.9 421.2,403.8 422.8,405.5 424.4,403.6 426.0,398.4 427.6,403.6 429.2,406.9 430.8,405.0 432.4,402.5 434.0,404.7 435.6,398.4 437.2,403.9 438.8,404.1 440.4,403.0 442.0,408.0 443.6,404.0 445.2,406.1 446.8,401.4 448.4,400.0 450.0,406.1 451.6,396.3 453.2,401.1 454.8,398.9 456.4,402.9 458.0,399.4 459.6,400.7 461.2,405.9 462.8,397.8 464.4,398.1 466.0,399.8 467.6,394.2 469.2,398.7 470.8,391.9 472.4,400.4 474.0,396.3 475.6,392.4 477.2,396.6 478.8,398.5 480.4,403.3 482.0,397.9 483.6,401.0 485.2,397.7 486.8,398.4 488.4,398.6 490.0,403.7 491.6,397.1 493.2,397.5 494.8,395.9 496.4,407.5 498.0,400.1 499.6,399.3 501.2,397.2 502.8,400.2 504.4,399.4 506.0,395.9 507.6,397.9 509.2,391.2 510.8,396.0 512.4,401.6 514.0,399.6 515.6,398.0 517.2,395.2 518.8,402.6 520.4,397.7 522.0,397.0 523.6,397.1 525.2,399.5 526.8,396.4 528.4,395.1 530.0,399.1 531.6,397.8 533.2,393.0 534.8,393.2 536.4,396.7 538.0,393.6 539.6,390.2 541.2,393.5 542.8,388.6 544.4,392.2 546.0,390.8 547.6,383.8 549.2,391.2 550.8,387.9 552.4,390.7 554.0,385.8 555.6,388.1 557.2,380.8 558.8,385.4 560.4,388.8 562.0,381.6 563.6,385.0 565.2,385.5 566.8,384.5 568.4,383.7 570.0,386.0 571.6,383.9 573.2,385.9 574.8,383.7 576.4,385.5 578.0,386.2 579.6,382.4 581.2,384.7 582.8,383.2 584.4,384.9 586.0,377.8 587.6,379.5 589.2,382.1 590.8,385.7 592.4,386.8 594.0,384.6 595.6,383.6 597.2,387.0 598.8,381.5 600.4,380.3 602.0,382.8 603.6,385.8 605.2,386.0 606.8,388.4 608.4,383.6 610.0,388.6 611.6,379.6 613.2,384.1 614.8,383.9 616.4,385.7 618.0,378.9 619.6,386.6 621.2,384.2 622.8,386.9 624.4,391.3 626.0,382.5 627.6,389.1 629.2,385.4 630.8,383.3 632.4,382.5 634.0,384.2 635.6,382.5 637.2,388.9 638.8,389.4 640.4,386.2 642.0,389.3 643.6,382.3 645.2,386.3 646.8,383.5 648.4,385.6 650.0,386.2 651.6,382.1 653.2,382.7 654.8,388.9 656.4,382.2 658.0,386.2 659.6,383.6 661.2,380.9 662.8,382.0 664.4,382.2 666.0,382.6 667.6,384.5 669.2,385.5 670.8,385.7 672.4,377.9 674.0,382.4 675.6,379.0M678.8,381.7 680.4,385.6 682.0,388.6 683.6,384.1 685.2,384.2 686.8,393.1 688.4,383.3 690.0,376.9 691.6,386.0 693.2,379.9 694.8,381.0 696.4,385.0 698.0,381.7 699.6,377.9 701.2,377.7 702.8,379.4 704.4,376.7 706.0,377.7 707.6,372.1 709.2,380.2 710.8,375.5 712.4,383.0 714.0,377.6 715.6,375.1 717.2,378.8 718.8,377.8 720.4,374.6 722.0,380.6 723.6,376.8 725.2,377.7 726.8,378.5 728.4,377.8 730.0,374.9 731.6,375.3 733.2,372.4 734.8,380.3 736.4,379.0 738.0,377.0 739.6,378.0 741.2,375.4 742.8,378.8 744.4,377.5 746.0,374.4 747.6,376.6 749.2,377.6 750.8,377.6 752.4,382.9 754.0,372.6 755.6,380.1 757.2,379.0 758.8,372.6 760.4,379.3 762.0,385.7 763.6,375.1 765.2,379.1 766.8,377.2"/>
<path d="M146.0,472.5 147.6,472.6 149.2,469.1 150.8,475.8 152.4,468.3 154.0,469.2 155.6,469.8 157.2,469.9 158.8,473.8 160.4,471.5 162.0,474.7 163.6,478.2 165.2,471.5 166.8,473.3 168.4,469.2 170.0,473.5 171.6,474.9 173.2,470.5 174.8,474.6 176.4,472.8 178.0,476.3 179.6,471.0 181.2,473.4 182.8,468.9 184.4,471.5 186.0,474.1 187.6,474.3 189.2,475.0 190.8,480.5 192.4,474.1 194.0,469.8 195.6,471.7 197.2,474.0 198.8,471.1 200.4,468.8 202.0,476.2 203.6,475.3 205.2,470.2 206.8,472.6 208.4,473.6 210.0,474.1 211.6,474.4 213.2,474.6 214.8,471.5 216.4,471.6 218.0,474.0 219.6,475.3 221.2,477.8 222.8,472.2 224.4,474.6 226.0,476.5 227.6,475.3 229.2,471.7 230.8,470.1 232.4,469.3 234.0,466.6 235.6,467.8 237.2,469.9 238.8,475.8 240.4,474.5 242.0,469.0 243.6,476.2 245.2,467.7 246.8,474.6 248.4,473.1 250.0,473.1 251.6,478.1 253.2,473.9 254.8,474.2 256.4,468.9 258.0,474.4 259.6,465.2 261.2,468.4 262.8,467.4 264.4,470.1 266.0,473.4 267.6,467.2 269.2,471.6 270.8,466.4 272.4,474.2 274.0,469.0 275.6,474.3 277.2,472.1 278.8,472.8 280.4,472.8 282.0,473.3 283.6,474.9 285.2,476.6 286.8,469.1 288.4,468.3 290.0,475.9 291.6,472.8 293.2,484.4 294.8,480.5 296.4,475.6 298.0,474.0 299.6,467.3 301.2,467.0 302.8,463.7 304.4,470.0 306.0,475.6 307.6,466.4 309.2,462.4 310.8,463.3 312.4,454.8 314.0,461.0 315.6,462.3 317.2,458.8 318.8,459.7 320.4,463.4 322.0,463.3 323.6,461.9 325.2,458.7 326.8,462.9 328.4,457.6 330.0,460.0 331.6,463.8 333.2,462.2 334.8,462.3 336.4,456.0 338.0,455.5 339.6,459.9 341.2,454.4 342.8,458.7 344.4,458.1 346.0,458.5 347.6,456.7 349.2,455.6 350.8,452.6 352.4,449.1 354.0,451.3 355.6,458.0 357.2,454.6 358.8,453.5 360.4,457.0 362.0,458.2 363.6,454.4 365.2,455.5 366.8,455.8 368.4,446.5 370.0,451.8 371.6,452.5 373.2,454.7 374.8,450.6 376.4,452.5 378.0,457.7 379.6,448.6 381.2,455.9 382.8,452.6 384.4,457.0 386.0,444.8 387.6,454.3 389.2,455.0 390.8,450.1 392.4,449.4 394.0,443.1 395.6,442.3 397.2,445.4 398.8,442.0 400.4,441.4 402.0,447.5 403.6,447.7 405.2,451.6 406.8,451.7 408.4,448.9 410.0,448.3 411.6,447.3 413.2,449.3 414.8,441.7 416.4,444.6 418.0,448.0 419.6,444.0 421.2,449.4 422.8,446.6 424.4,444.5 426.0,442.3 427.6,438.7 429.2,436.5 430.8,440.4 432.4,441.1 434.0,438.4 435.6,441.2 437.2,439.1 438.8,440.0 440.4,438.8 442.0,440.0 443.6,435.3 445.2,434.6 446.8,429.7 448.4,431.8 450.0,432.9 451.6,432.8 453.2,434.3 454.8,430.8 456.4,433.0 458.0,425.7 459.6,432.3 461.2,432.2 462.8,434.2 464.4,433.2 466.0,431.8 467.6,433.0 469.2,430.0 470.8,431.3 472.4,429.4 474.0,433.0 475.6,430.8 477.2,424.0 478.8,426.0 480.4,426.1 482.0,422.4 483.6,427.3 485.2,427.1 486.8,430.9 488.4,428.9 490.0,429.2 491.6,428.4 493.2,433.5 494.8,429.6 496.4,431.9 498.0,427.1 499.6,432.6 501.2,426.7 502.8,425.6 504.4,425.8 506.0,428.4 507.6,424.2 509.2,422.1 510.8,432.0 512.4,433.5 514.0,432.3 515.6,427.7 517.2,430.8 518.8,432.6 520.4,432.4 522.0,427.3 523.6,426.4 525.2,433.2 526.8,425.1 528.4,423.2 530.0,427.4 531.6,432.6 533.2,421.0 534.8,418.5 536.4,410.2 538.0,420.2 539.6,417.1 541.2,410.7 542.8,414.5 544.4,409.1 546.0,414.3 547.6,412.5 549.2,417.5 550.8,418.0 552.4,419.5 554.0,414.7 555.6,414.8 557.2,419.9 558.8,410.1 560.4,410.7 562.0,418.6 563.6,412.7 565.2,413.3 566.8,410.2 568.4,411.0 570.0,407.2 571.6,408.3 573.2,409.1 574.8,407.2 576.4,408.7 578.0,408.0 579.6,404.9 581.2,417.3 582.8,409.8 584.4,416.4 586.0,411.8 587.6,415.5 589.2,416.0 590.8,407.6 592.4,411.9 594.0,410.2 595.6,407.3 597.2,407.0 598.8,413.7 600.4,412.1 602.0,410.6 603.6,411.3 605.2,414.1 606.8,415.3 608.4,411.1 610.0,409.2 611.6,412.3 613.2,413.2 614.8,408.1 616.4,413.4 618.0,412.8 619.6,412.7 621.2,413.8 622.8,419.8 624.4,414.3 626.0,416.3 627.6,413.0 629.2,416.0 630.8,417.0 632.4,418.4 634.0,419.0 635.6,417.2 637.2,418.7 638.8,412.5 640.4,413.3 642.0,417.5 643.6,419.4 645.2,415.8 646.8,413.5 648.4,413.2 650.0,414.2 651.6,418.5 653.2,414.0 654.8,417.6 656.4,409.9 658.0,411.5 659.6,416.1 661.2,412.4 662.8,411.7 664.4,416.2 666.0,413.5 667.6,413.6 669.2,428.2 670.8,418.2 672.4,422.8 674.0,418.9 675.6,418.5M678.8,416.0 680.4,411.4 682.0,417.5 683.6,418.5 685.2,415.4 686.8,415.8 688.4,411.7 690.0,413.7 691.6,414.0 693.2,419.8 694.8,412.4 696.4,420.0 698.0,410.9 699.6,413.0 701.2,411.4 702.8,413.0 704.4,410.1 706.0,416.1 707.6,416.4 709.2,412.0 710.8,412.6 712.4,419.5 714.0,414.0 715.6,413.4 717.2,413.3 718.8,416.9 720.4,411.1 722.0,408.4 723.6,416.4 725.2,415.4 726.8,411.0 728.4,418.9 730.0,413.7 731.6,408.0 733.2,411.6 734.8,414.0 736.4,419.1 738.0,417.0 739.6,415.1 741.2,411.6 742.8,411.3 744.4,411.2 746.0,413.1 747.6,413.9 749.2,412.1 750.8,414.5 752.4,410.7 754.0,411.1 755.6,414.0 757.2,418.7 758.8,414.0 760.4,414.6 762.0,413.4 763.6,412.8 765.2,419.6 766.8,418.4"/>
</g>
<g stroke="#8a8a8a" stroke-width="2" fill="none">
<path d="M145,670.5 V1074.5 H766.4"/>
<path d="M135.5,693.6 H145"/>
<path d="M135.5,740.98 H145"/>
<path d="M135.5,788.36 H145"/>
<path d="M135.5,835.74 H145"/>
<path d="M135.5,883.12 H145"/>
<path d="M135.5,930.5 H145"/>
<path d="M135.5,977.8800000000001 H145"/>
<path d="M135.5,1025.26 H145"/>
<path d="M135.5,1072.64 H145"/>
<path d="M146.9,1074.5 V1083"/>
<path d="M302.4,1074.5 V1083"/>
<path d="M456.7,1074.5 V1083"/>
<path d="M612.2,1074.5 V1083"/>
<path d="M766.4,1074.5 V1083"/>
</g>
<text x="131.5" y="700.6" font-size="20.5" text-anchor="end" font-weight="normal" fill="#222" stroke="#222" stroke-width="0.45">1.7</text>
<text x="131.5" y="748.0" font-size="20.5" text-anchor="end" font-weight="normal" fill="#222" stroke="#222" stroke-width="0.45">1.6</text>
<text x="131.5" y="795.4" font-size="20.5" text-anchor="end" font-weight="normal" fill="#222" stroke="#222" stroke-width="0.45">1.5</text>
<text x="131.5" y="842.7" font-size="20.5" text-anchor="end" font-weight="normal" fill="#222" stroke="#222" stroke-width="0.45">1.4</text>
<text x="131.5" y="890.1" font-size="20.5" text-anchor="end" font-weight="normal" fill="#222" stroke="#222" stroke-width="0.45">1.3</text>
<text x="131.5" y="937.5" font-size="20.5" text-anchor="end" font-weight="normal" fill="#222" stroke="#222" stroke-width="0.45">1.2</text>
<text x="131.5" y="984.9" font-size="20.5" text-anchor="end" font-weight="normal" fill="#222" stroke="#222" stroke-width="0.45">1.1</text>
<text x="131.5" y="1032.3" font-size="20.5" text-anchor="end" font-weight="normal" fill="#222" stroke="#222" stroke-width="0.45">1.0</text>
<text x="131.5" y="1079.6" font-size="20.5" text-anchor="end" font-weight="normal" fill="#222" stroke="#222" stroke-width="0.45">0.9</text>
<rect x="250" y="670" width="522.9" height="25.5" fill="#bdbdbd"/>
<text x="253.5" y="688.6" font-size="17.8" text-anchor="start" font-weight="normal" fill="#1a1a1a" stroke="#1a1a1a" stroke-width="0.3">10 <tspan font-style="italic">μ</tspan>M VU</text>
<rect x="612" y="1058.6" width="154.3" height="5" rx="1.5" fill="#000"/>
<text x="759.3" y="1051.8" font-size="16.9" text-anchor="end" font-weight="normal" fill="#2a2a2a" stroke="#2a2a2a" stroke-width="0.3">500 sec</text>
<text x="5.5" y="678" font-size="59" text-anchor="start" font-weight="normal" fill="#000" >B</text>
<text x="151.5" y="909.9" font-size="35.5" text-anchor="start" font-weight="normal" fill="#000" >VIP+</text>
<text transform="translate(68.1,890) rotate(-90) scale(0.74,1)" font-size="35" fill="#000" stroke="#000" stroke-width="0.5">R<tspan font-size="25.5" dy="8.7">Cl</tspan></text>
<g fill="none" stroke="#dc3040" stroke-width="1.7" stroke-linejoin="round">
<path d="M148.0,918.6 149.5,917.1 151.0,916.7 152.5,920.6 154.0,919.0 155.5,919.7 157.0,919.2 158.5,920.0 160.0,918.0 161.5,914.8 163.0,917.7 164.5,917.1 166.0,916.1 167.5,918.1 169.0,919.5 170.5,916.3 172.0,918.1 173.5,918.9 175.0,919.6 176.5,918.9 178.0,918.7 179.5,918.1 181.0,919.8 182.5,916.6 184.0,918.0 185.5,921.4 187.0,921.7 188.5,920.2 190.0,921.5 191.5,919.6 193.0,921.3 194.5,919.7 196.0,918.9 197.5,920.5 199.0,920.5 200.5,916.8 202.0,918.8 203.5,918.9 205.0,916.2 206.5,916.1 208.0,916.4 209.5,917.3 211.0,918.7 212.5,919.9 214.0,919.9 215.5,918.0 217.0,918.0 218.5,921.1 220.0,919.7 221.5,918.8 223.0,917.6 224.5,916.0 226.0,917.2 227.5,915.7 229.0,914.9 230.5,913.5 232.0,913.9 233.5,914.2 235.0,911.8 236.5,912.1 238.0,912.8 239.5,911.2 241.0,910.6 242.5,910.3 244.0,911.4 245.5,912.5 247.0,912.5 248.5,912.9 250.0,913.0 251.5,913.0 253.0,912.5 254.5,916.3 256.0,917.2 257.5,918.9 259.0,919.1 260.5,922.3 262.0,922.9 263.5,922.5 265.0,914.0 266.5,913.8 268.0,909.0 269.5,905.7 271.0,903.5 272.5,899.6 274.0,897.1 275.5,894.1 277.0,888.4 278.5,887.1 280.0,883.8 281.5,880.1 283.0,877.7 284.5,873.8 286.0,872.0 287.5,866.6 289.0,867.5 290.5,867.8 292.0,863.1 293.5,861.4 295.0,859.8 296.5,852.1 298.0,851.8 299.5,847.7 301.0,845.8 302.5,843.8 304.0,838.7 305.5,841.5 307.0,837.5 308.5,837.5 310.0,835.3 311.5,833.7 313.0,832.0 314.5,828.9 316.0,827.2 317.5,823.2 319.0,819.9 320.5,816.5 322.0,815.5 323.5,814.5 325.0,813.0 326.5,809.1 328.0,809.3 329.5,806.8 331.0,804.2 332.5,803.4 334.0,802.2 335.5,802.7 337.0,801.7 338.5,797.8 340.0,796.8 341.5,796.5 343.0,794.1 344.5,794.2 346.0,790.9 347.5,784.3 349.0,788.0 350.5,787.8 352.0,787.9 353.5,785.4 355.0,783.1 356.5,783.8 358.0,779.2 359.5,779.1 361.0,777.9 362.5,777.7 364.0,776.3 365.5,772.7 367.0,772.2 368.5,769.3 370.0,768.5 371.5,770.6 373.0,768.1 374.5,766.3 376.0,766.7 377.5,763.2 379.0,763.8 380.5,763.6 382.0,760.2 383.5,761.2 385.0,758.3 386.5,758.7 388.0,758.7 389.5,758.4 391.0,759.8 392.5,756.7 394.0,758.2 395.5,756.3 397.0,758.1 398.5,756.9 400.0,754.1 401.5,753.3 403.0,752.4 404.5,755.0 406.0,752.9 407.5,751.3 409.0,751.2 410.5,748.8 412.0,750.8 413.5,748.4 415.0,749.7 416.5,748.5 418.0,748.6 419.5,746.3 421.0,745.9 422.5,746.4 424.0,747.3 425.5,746.8 427.0,744.6 428.5,744.9 430.0,744.1 431.5,745.8 433.0,743.2 434.5,744.6 436.0,744.0 437.5,743.2 439.0,741.0 440.5,744.8 442.0,743.3 443.5,741.7 445.0,743.1 446.5,740.8 448.0,741.8 449.5,739.2 451.0,741.1 452.5,737.9 454.0,741.1 455.5,738.4 457.0,738.2 458.5,739.2 460.0,735.5 461.5,739.6 463.0,736.3 464.5,736.5 466.0,735.6 467.5,735.7 469.0,736.6 470.5,738.3 472.0,736.6 473.5,735.5 475.0,736.0 476.5,736.2 478.0,735.8 479.5,734.6 481.0,737.0 482.5,737.7 484.0,733.7 485.5,732.8 487.0,734.3 488.5,735.5 490.0,731.4 491.5,735.7 493.0,734.7 494.5,734.6 496.0,734.8 497.5,733.4 499.0,734.7 500.5,732.6 502.0,731.0 503.5,730.6 505.0,731.7 506.5,731.0 508.0,732.2 509.5,731.4 511.0,730.8 512.5,731.5 514.0,728.0 515.5,730.3 517.0,731.9 518.5,726.7 520.0,731.1 521.5,731.1 523.0,731.2 524.5,731.4 526.0,730.1 527.5,732.4 529.0,729.9 530.5,730.2 532.0,730.8 533.5,728.2 535.0,729.7 536.5,728.5 538.0,728.5 539.5,731.9 541.0,729.4 542.5,730.7 544.0,729.2 545.5,730.1 547.0,731.6 548.5,727.6 550.0,726.8 551.5,726.9 553.0,725.7 554.5,727.2 556.0,726.0 557.5,726.9 559.0,727.1 560.5,724.7 562.0,723.8 563.5,724.0 565.0,726.0 566.5,726.8 568.0,726.2 569.5,726.0 571.0,729.4 572.5,727.0 574.0,726.8 575.5,727.3 577.0,729.7 578.5,728.8 580.0,728.9 581.5,726.6 583.0,726.1 584.5,725.7 586.0,724.2 587.5,726.3 589.0,724.7 590.5,726.3 592.0,727.4 593.5,724.0 595.0,725.1 596.5,724.0 598.0,726.6 599.5,725.4 601.0,726.9 602.5,725.4 604.0,723.4 605.5,725.1 607.0,725.5 608.5,725.0 610.0,725.8 611.5,725.4 613.0,723.8 614.5,725.5 616.0,723.1M619.0,723.7 620.5,723.3 622.0,724.3 623.5,725.3 625.0,725.1 626.5,725.6 628.0,724.9 629.5,727.0 631.0,727.2 632.5,722.8 634.0,726.3 635.5,727.5 637.0,726.5 638.5,726.2 640.0,726.7 641.5,725.9 643.0,728.0 644.5,728.4 646.0,727.4 647.5,727.0 649.0,725.4 650.5,726.5 652.0,725.7 653.5,724.7 655.0,727.5 656.5,725.2 658.0,725.3 659.5,726.6 661.0,725.5 662.5,726.9 664.0,726.7 665.5,725.8 667.0,724.9 668.5,724.2 670.0,725.2 671.5,726.7 673.0,725.6 674.5,724.8 676.0,725.2 677.5,727.4 679.0,726.6 680.5,726.7 682.0,728.6 683.5,726.8 685.0,725.6 686.5,727.3 688.0,729.1 689.5,728.8 691.0,727.8 692.5,727.2 694.0,726.7 695.5,726.5 697.0,727.3 698.5,727.6 700.0,729.4 701.5,727.9 703.0,727.5 704.5,726.4 706.0,729.9 707.5,727.2 709.0,728.0 710.5,730.2 712.0,726.8 713.5,727.6 715.0,728.8 716.5,728.2 718.0,728.4 719.5,728.8 721.0,729.1 722.5,724.6 724.0,728.9M727.0,728.0 728.5,729.2 730.0,728.5 731.5,726.8 733.0,728.4 734.5,728.1 736.0,728.2 737.5,726.9 739.0,726.4 740.5,725.7 742.0,726.3 743.5,728.3 745.0,727.1 746.5,724.5 748.0,725.3 749.5,725.8 751.0,725.7 752.5,727.3 754.0,728.2 755.5,726.7 757.0,727.0 758.5,728.6 760.0,727.1 761.5,728.8 763.0,728.0 764.5,728.7 766.0,727.8"/>
<path d="M148.0,929.7 149.5,929.4 151.0,925.9 152.5,926.8 154.0,928.2 155.5,928.4 157.0,928.9 158.5,928.8 160.0,928.4 161.5,930.7 163.0,930.0 164.5,930.3 166.0,929.4 167.5,931.5 169.0,927.5 170.5,928.5 172.0,932.3 173.5,929.7 175.0,929.6 176.5,927.5 178.0,929.8 179.5,927.6 181.0,927.2 182.5,928.9 184.0,926.7 185.5,927.2 187.0,927.2 188.5,931.9 190.0,928.2 191.5,928.6 193.0,928.8 194.5,927.8 196.0,928.6 197.5,928.5 199.0,930.4 200.5,928.8 202.0,928.5 203.5,927.0 205.0,927.0 206.5,929.2 208.0,930.8 209.5,928.8 211.0,928.7 212.5,928.3 214.0,928.4 215.5,928.8 217.0,927.9 218.5,927.9 220.0,926.4 221.5,927.6 223.0,926.7 224.5,927.1 226.0,925.3 227.5,925.9 229.0,926.2 230.5,926.3 232.0,924.9 233.5,923.8 235.0,926.7 236.5,924.2 238.0,928.3 239.5,925.2 241.0,925.9 242.5,925.8 244.0,926.5 245.5,924.6 247.0,924.9 248.5,921.1 250.0,923.7 251.5,924.0 253.0,924.7 254.5,927.8 256.0,927.8 257.5,928.2 259.0,930.9 260.5,931.0 262.0,930.0 263.5,929.3 265.0,925.1 266.5,921.5 268.0,919.0 269.5,916.8 271.0,914.5 272.5,910.8 274.0,909.0 275.5,907.8 277.0,904.0 278.5,902.3 280.0,897.8 281.5,896.3 283.0,891.4 284.5,889.0 286.0,885.7 287.5,886.5 289.0,881.4 290.5,880.9 292.0,882.2 293.5,877.9 295.0,871.2 296.5,872.4 298.0,870.7 299.5,868.6 301.0,863.2 302.5,865.4 304.0,862.6 305.5,859.0 307.0,858.1 308.5,857.8 310.0,856.3 311.5,852.7 313.0,850.6 314.5,850.9 316.0,846.6 317.5,845.1 319.0,843.5 320.5,845.6 322.0,840.8 323.5,838.1 325.0,838.8 326.5,832.8 328.0,834.1 329.5,831.2 331.0,829.6 332.5,829.1 334.0,827.9 335.5,823.5 337.0,823.3 338.5,822.8 340.0,818.2 341.5,816.6 343.0,818.4 344.5,817.4 346.0,813.2 347.5,812.6 349.0,810.8 350.5,809.9 352.0,808.6 353.5,804.0 355.0,802.9 356.5,803.0 358.0,801.2 359.5,800.0 361.0,797.4 362.5,797.8 364.0,795.5 365.5,793.8 367.0,794.7 368.5,792.3 370.0,791.7 371.5,788.6 373.0,789.9 374.5,788.5 376.0,787.4 377.5,787.0 379.0,785.3 380.5,784.2 382.0,784.5 383.5,783.6 385.0,780.7 386.5,781.0 388.0,780.5 389.5,781.5 391.0,779.0 392.5,778.2 394.0,777.1 395.5,778.7 397.0,772.8 398.5,774.1 400.0,773.1 401.5,773.3 403.0,772.5 404.5,771.0 406.0,768.9 407.5,769.2 409.0,766.2 410.5,766.5 412.0,766.4 413.5,767.1 415.0,765.9 416.5,765.0 418.0,765.6 419.5,762.9 421.0,762.1 422.5,759.6 424.0,760.2 425.5,759.3 427.0,760.8 428.5,760.2 430.0,762.1 431.5,760.0 433.0,757.7 434.5,757.0 436.0,760.7 437.5,756.8 439.0,756.8 440.5,758.2 442.0,760.2 443.5,759.1 445.0,759.2 446.5,757.9 448.0,757.0 449.5,756.6 451.0,755.8 452.5,755.7 454.0,754.5 455.5,755.0 457.0,754.8 458.5,757.5 460.0,755.1 461.5,755.0 463.0,755.2 464.5,756.2 466.0,754.6 467.5,756.8 469.0,755.0 470.5,756.3 472.0,754.4 473.5,752.2 475.0,755.7 476.5,754.7 478.0,752.6 479.5,753.0 481.0,751.6 482.5,754.8 484.0,753.3 485.5,752.7 487.0,752.2 488.5,752.7 490.0,750.6 491.5,751.2 493.0,752.2 494.5,752.2 496.0,752.5 497.5,751.9 499.0,749.9 500.5,753.9 502.0,752.1 503.5,751.8 505.0,749.2 506.5,751.7 508.0,750.6 509.5,750.7 511.0,751.5 512.5,752.3 514.0,752.6 515.5,750.9 517.0,752.0 518.5,749.8 520.0,749.7 521.5,751.6 523.0,750.7 524.5,750.9 526.0,751.0 527.5,751.0 529.0,749.8 530.5,751.1 532.0,749.4 533.5,747.3 535.0,747.4 536.5,747.9 538.0,750.2 539.5,752.6 541.0,752.3 542.5,749.9 544.0,748.4 545.5,749.9 547.0,748.8 548.5,749.3 550.0,751.2 551.5,749.0 553.0,748.5 554.5,752.2 556.0,749.9 557.5,750.9 559.0,749.2 560.5,749.1 562.0,748.9 563.5,746.2 565.0,747.7 566.5,747.9 568.0,748.4 569.5,751.3 571.0,749.3 572.5,750.8 574.0,747.9 575.5,746.0 577.0,748.3 578.5,748.1 580.0,747.0 581.5,748.3 583.0,745.7 584.5,746.4 586.0,751.5 587.5,747.1 589.0,748.1 590.5,746.1 592.0,744.7 593.5,746.2 595.0,744.7 596.5,745.6 598.0,748.6 599.5,746.2 601.0,745.7 602.5,744.4 604.0,746.2 605.5,746.1 607.0,745.3 608.5,744.7 610.0,747.2 611.5,744.2 613.0,745.1 614.5,744.5 616.0,743.0M619.0,745.8 620.5,745.4 622.0,746.1 623.5,748.4 625.0,742.0 626.5,742.0 628.0,743.3 629.5,743.4 631.0,744.6 632.5,744.4 634.0,745.3 635.5,745.5 637.0,742.7 638.5,743.4 640.0,743.9 641.5,742.6 643.0,742.0 644.5,742.2 646.0,743.9 647.5,742.2 649.0,742.8 650.5,742.3 652.0,744.3 653.5,745.4 655.0,745.6 656.5,745.3 658.0,743.6 659.5,746.0 661.0,744.7 662.5,744.7 664.0,745.7 665.5,745.5 667.0,742.3 668.5,745.6 670.0,744.7 671.5,745.0 673.0,745.5 674.5,745.5 676.0,745.3 677.5,744.8 679.0,745.9 680.5,746.6 682.0,748.3 683.5,743.4 685.0,744.8 686.5,743.6 688.0,744.7 689.5,745.5 691.0,745.4 692.5,744.9 694.0,744.8 695.5,746.5 697.0,745.3 698.5,745.2 700.0,746.3 701.5,748.0 703.0,748.4 704.5,748.3 706.0,746.6 707.5,748.0 709.0,745.6 710.5,747.3 712.0,745.2 713.5,747.7 715.0,748.7 716.5,747.4 718.0,746.4 719.5,745.3 721.0,745.8 722.5,748.3 724.0,748.2M727.0,746.7 728.5,747.3 730.0,746.0 731.5,747.0 733.0,745.3 734.5,747.9 736.0,751.8 737.5,746.2 739.0,747.5 740.5,748.1 742.0,746.5 743.5,749.4 745.0,749.3 746.5,747.2 748.0,748.4 749.5,748.8 751.0,751.2 752.5,751.5 754.0,751.4 755.5,750.1 757.0,747.7 758.5,748.8 760.0,749.2 761.5,747.7 763.0,749.5 764.5,748.0 766.0,750.7"/>
<path d="M148.0,935.4 149.5,936.1 151.0,934.9 152.5,935.6 154.0,934.1 155.5,934.2 157.0,936.8 158.5,935.3 160.0,936.9 161.5,937.9 163.0,937.3 164.5,935.5 166.0,935.8 167.5,935.7 169.0,936.9 170.5,938.2 172.0,936.1 173.5,935.9 175.0,935.7 176.5,936.2 178.0,938.1 179.5,935.5 181.0,936.3 182.5,934.8 184.0,936.4 185.5,937.6 187.0,936.1 188.5,934.9 190.0,935.9 191.5,936.2 193.0,936.5 194.5,936.3 196.0,935.9 197.5,935.9 199.0,936.0 200.5,934.4 202.0,935.1 203.5,936.0 205.0,937.5 206.5,934.5 208.0,937.5 209.5,935.5 211.0,936.1 212.5,934.1 214.0,934.3 215.5,934.0 217.0,934.2 218.5,935.3 220.0,934.9 221.5,935.7 223.0,935.8 224.5,936.4 226.0,935.0 227.5,935.3 229.0,934.0 230.5,935.7 232.0,934.1 233.5,935.2 235.0,933.0 236.5,933.9 238.0,933.2 239.5,931.8 241.0,931.1 242.5,933.3 244.0,931.0 245.5,932.0 247.0,932.6 248.5,932.1 250.0,932.4 251.5,930.6 253.0,934.1 254.5,934.1 256.0,934.6 257.5,937.0 259.0,937.9 260.5,939.3 262.0,939.9 263.5,938.1 265.0,937.3 266.5,932.5 268.0,929.4 269.5,925.3 271.0,923.6 272.5,921.8 274.0,919.0 275.5,914.6 277.0,911.3 278.5,909.0 280.0,906.8 281.5,901.9 283.0,900.9 284.5,897.3 286.0,890.9 287.5,893.1 289.0,889.4 290.5,886.5 292.0,885.3 293.5,883.1 295.0,881.0 296.5,877.4 298.0,877.2 299.5,876.5 301.0,871.2 302.5,871.4 304.0,866.9 305.5,868.6 307.0,865.5 308.5,861.7 310.0,862.8 311.5,859.8 313.0,859.3 314.5,856.8 316.0,851.7 317.5,851.5 319.0,851.7 320.5,846.3 322.0,849.0 323.5,845.4 325.0,842.7 326.5,841.1 328.0,841.4 329.5,836.6 331.0,837.4 332.5,832.3 334.0,833.8 335.5,831.3 337.0,829.6 338.5,828.0 340.0,826.5 341.5,824.8 343.0,823.7 344.5,821.8 346.0,820.4 347.5,818.9 349.0,818.8 350.5,815.8 352.0,815.1 353.5,811.7 355.0,812.6 356.5,808.8 358.0,809.9 359.5,810.5 361.0,807.4 362.5,805.3 364.0,805.2 365.5,806.6 367.0,806.6 368.5,804.2 370.0,806.1 371.5,802.3 373.0,802.5 374.5,802.2 376.0,800.0 377.5,799.1 379.0,796.1 380.5,797.5 382.0,795.5 383.5,794.9 385.0,794.0 386.5,793.0 388.0,792.7 389.5,792.1 391.0,791.2 392.5,791.7 394.0,791.1 395.5,790.4 397.0,788.6 398.5,785.1 400.0,788.4 401.5,785.6 403.0,785.5 404.5,785.8 406.0,785.3 407.5,785.3 409.0,784.5 410.5,783.0 412.0,780.3 413.5,781.2 415.0,780.2 416.5,779.5 418.0,781.2 419.5,782.8 421.0,781.8 422.5,779.8 424.0,779.8 425.5,780.7 427.0,777.1 428.5,777.3 430.0,776.7 431.5,775.2 433.0,776.8 434.5,774.8 436.0,775.4 437.5,777.7 439.0,779.0 440.5,775.6 442.0,776.3 443.5,774.4 445.0,775.1 446.5,773.8 448.0,775.3 449.5,776.5 451.0,777.3 452.5,776.2 454.0,775.8 455.5,776.3 457.0,776.8 458.5,775.5 460.0,776.0 461.5,775.7 463.0,776.2 464.5,776.1 466.0,777.2 467.5,778.1 469.0,775.3 470.5,776.2 472.0,774.7 473.5,774.7 475.0,772.5 476.5,774.5 478.0,773.3 479.5,773.3 481.0,774.0 482.5,776.6 484.0,772.8 485.5,772.3 487.0,774.6 488.5,774.6 490.0,772.4 491.5,776.9 493.0,774.4 494.5,772.9 496.0,773.6 497.5,778.0 499.0,774.4 500.5,774.8 502.0,776.5 503.5,775.7 505.0,776.2 506.5,776.6 508.0,774.9 509.5,773.9 511.0,774.2 512.5,774.8 514.0,775.0 515.5,775.9 517.0,773.5 518.5,775.6 520.0,776.7 521.5,773.8 523.0,773.9 524.5,773.5 526.0,773.8 527.5,772.3 529.0,771.5 530.5,772.5 532.0,771.1 533.5,772.5 535.0,774.0 536.5,772.1 538.0,772.5 539.5,771.4 541.0,774.1 542.5,771.7 544.0,772.9 545.5,772.3 547.0,771.5 548.5,772.9 550.0,773.8 551.5,773.0 553.0,773.3 554.5,774.7 556.0,773.3 557.5,773.3 559.0,770.2 560.5,772.4 562.0,772.7 563.5,771.1 565.0,770.1 566.5,768.5 568.0,771.1 569.5,771.3 571.0,770.7 572.5,773.0 574.0,771.4 575.5,770.4 577.0,773.4 578.5,773.4 580.0,772.8 581.5,771.5 583.0,771.9 584.5,771.9 586.0,771.4 587.5,772.0 589.0,769.5 590.5,770.9 592.0,771.2 593.5,769.7 595.0,772.4 596.5,771.2 598.0,770.5 599.5,771.4 601.0,770.3 602.5,768.6 604.0,769.6 605.5,771.4 607.0,772.2 608.5,770.3 610.0,770.8 611.5,770.3 613.0,772.0 614.5,771.7 616.0,772.4M619.0,771.4 620.5,770.2 622.0,770.8 623.5,770.2 625.0,771.4 626.5,772.6 628.0,770.2 629.5,770.5 631.0,769.5 632.5,771.5 634.0,772.3 635.5,772.4 637.0,770.2 638.5,770.7 640.0,770.5 641.5,771.0 643.0,771.7 644.5,769.7 646.0,771.1 647.5,771.9 649.0,772.6 650.5,771.6 652.0,773.0 653.5,773.4 655.0,771.0 656.5,771.7 658.0,772.4 659.5,773.5 661.0,772.4 662.5,774.6 664.0,771.7 665.5,772.1 667.0,773.3 668.5,771.5 670.0,772.0 671.5,771.3 673.0,774.8 674.5,774.0 676.0,772.1 677.5,772.3 679.0,773.8 680.5,769.8 682.0,773.9 683.5,771.8 685.0,774.8 686.5,770.8 688.0,770.9 689.5,769.8 691.0,768.7 692.5,769.7 694.0,772.6 695.5,770.5 697.0,773.1 698.5,772.5 700.0,772.8 701.5,774.4 703.0,773.3 704.5,772.0 706.0,772.6 707.5,771.2 709.0,772.4 710.5,770.9 712.0,771.1 713.5,772.6 715.0,771.7 716.5,773.8 718.0,772.5 719.5,773.5 721.0,772.9 722.5,771.9 724.0,772.7M727.0,773.3 728.5,775.7 730.0,776.4 731.5,774.3 733.0,773.0 734.5,774.8 736.0,774.7 737.5,774.0 739.0,774.0 740.5,774.0 742.0,773.1 743.5,773.8 745.0,773.6 746.5,774.6 748.0,773.7 749.5,775.9 751.0,773.6 752.5,776.7 754.0,778.6 755.5,775.4 757.0,776.3 758.5,777.4 760.0,775.2 761.5,776.3 763.0,775.7 764.5,776.4 766.0,772.4"/>
<path d="M148.0,948.2 149.5,947.6 151.0,948.0 152.5,951.1 154.0,948.6 155.5,947.4 157.0,950.0 158.5,949.3 160.0,949.5 161.5,947.6 163.0,947.1 164.5,947.0 166.0,946.8 167.5,947.3 169.0,945.8 170.5,948.3 172.0,948.4 173.5,946.9 175.0,948.2 176.5,948.9 178.0,949.1 179.5,950.4 181.0,948.0 182.5,948.0 184.0,946.9 185.5,949.1 187.0,949.1 188.5,949.0 190.0,948.5 191.5,949.4 193.0,949.7 194.5,947.6 196.0,948.0 197.5,947.0 199.0,946.4 200.5,946.8 202.0,949.1 203.5,948.7 205.0,950.4 206.5,948.1 208.0,949.3 209.5,948.2 211.0,947.7 212.5,948.6 214.0,948.2 215.5,947.5 217.0,946.4 218.5,949.9 220.0,946.7 221.5,947.6 223.0,946.2 224.5,945.3 226.0,946.5 227.5,947.7 229.0,944.6 230.5,945.9 232.0,944.7 233.5,943.7 235.0,944.1 236.5,943.3 238.0,945.7 239.5,943.8 241.0,943.6 242.5,943.1 244.0,944.6 245.5,944.6 247.0,944.2 248.5,942.8 250.0,945.6 251.5,944.5 253.0,946.6 254.5,946.1 256.0,947.4 257.5,948.1 259.0,948.2 260.5,951.6 262.0,947.8 263.5,948.0 265.0,945.7 266.5,941.5 268.0,937.0 269.5,930.9 271.0,929.2 272.5,926.8 274.0,920.8 275.5,918.3 277.0,914.7 278.5,912.3 280.0,908.6 281.5,907.7 283.0,904.2 284.5,902.5 286.0,899.8 287.5,891.4 289.0,891.3 290.5,893.8 292.0,892.1 293.5,887.8 295.0,886.2 296.5,885.1 298.0,881.2 299.5,878.0 301.0,875.7 302.5,874.1 304.0,872.3 305.5,870.5 307.0,871.0 308.5,868.2 310.0,863.4 311.5,864.1 313.0,863.1 314.5,861.6 316.0,859.7 317.5,858.9 319.0,856.3 320.5,854.6 322.0,853.3 323.5,850.6 325.0,850.9 326.5,847.7 328.0,845.7 329.5,845.4 331.0,841.7 332.5,840.3 334.0,840.0 335.5,837.1 337.0,839.5 338.5,836.4 340.0,832.6 341.5,832.8 343.0,828.1 344.5,827.7 346.0,828.4 347.5,826.8 349.0,824.7 350.5,824.3 352.0,823.7 353.5,821.4 355.0,820.9 356.5,819.5 358.0,817.8 359.5,817.3 361.0,815.0 362.5,815.2 364.0,813.0 365.5,813.1 367.0,813.4 368.5,811.0 370.0,811.2 371.5,809.7 373.0,811.3 374.5,810.2 376.0,809.5 377.5,810.0 379.0,810.4 380.5,808.3 382.0,808.1 383.5,809.1 385.0,809.8 386.5,807.4 388.0,806.2 389.5,805.0 391.0,806.9 392.5,804.1 394.0,804.4 395.5,804.1 397.0,803.6 398.5,805.4 400.0,803.8 401.5,800.6 403.0,799.0 404.5,800.5 406.0,800.2 407.5,801.8 409.0,801.0 410.5,799.7 412.0,800.5 413.5,800.1 415.0,799.4 416.5,799.7 418.0,797.7 419.5,799.6 421.0,798.7 422.5,795.2 424.0,798.7 425.5,798.9 427.0,798.7 428.5,796.2 430.0,795.9 431.5,795.4 433.0,795.7 434.5,795.8 436.0,797.7 437.5,797.9 439.0,796.8 440.5,796.6 442.0,797.0 443.5,798.2 445.0,800.0 446.5,797.3 448.0,797.5 449.5,797.7 451.0,798.2 452.5,796.7 454.0,795.6 455.5,796.6 457.0,796.1 458.5,795.3 460.0,796.1 461.5,796.0 463.0,794.8 464.5,797.7 466.0,796.5 467.5,798.3 469.0,795.9 470.5,797.4 472.0,796.2 473.5,795.8 475.0,796.3 476.5,794.6 478.0,794.0 479.5,796.6 481.0,796.0 482.5,794.4 484.0,793.8 485.5,794.6 487.0,793.5 488.5,794.9 490.0,794.4 491.5,794.8 493.0,793.9 494.5,793.8 496.0,794.1 497.5,793.8 499.0,794.0 500.5,793.8 502.0,795.1 503.5,795.3 505.0,794.3 506.5,793.0 508.0,795.5 509.5,795.1 511.0,796.3 512.5,795.2 514.0,794.8 515.5,798.7 517.0,796.2 518.5,795.8 520.0,796.8 521.5,795.5 523.0,795.5 524.5,794.6 526.0,797.2 527.5,796.9 529.0,794.7 530.5,795.1 532.0,797.4 533.5,796.7 535.0,794.8 536.5,794.4 538.0,794.8 539.5,794.1 541.0,795.4 542.5,795.4 544.0,793.9 545.5,793.2 547.0,794.5 548.5,795.9 550.0,797.2 551.5,795.2 553.0,796.0 554.5,792.9 556.0,796.3 557.5,795.4 559.0,795.3 560.5,795.0 562.0,798.0 563.5,795.1 565.0,794.2 566.5,795.8 568.0,793.6 569.5,794.7 571.0,794.9 572.5,795.4 574.0,795.4 575.5,794.8 577.0,795.3 578.5,794.1 580.0,794.6 581.5,792.4 583.0,792.3 584.5,790.4 586.0,793.1 587.5,792.2 589.0,793.4 590.5,792.4 592.0,793.1 593.5,790.7 595.0,790.8 596.5,793.9 598.0,790.9 599.5,792.8 601.0,792.1 602.5,792.3 604.0,791.0 605.5,793.6 607.0,790.0 608.5,792.7 610.0,792.4 611.5,791.7 613.0,793.7 614.5,792.4 616.0,789.2M619.0,790.0 620.5,790.1 622.0,790.4 623.5,789.5 625.0,792.2 626.5,788.6 628.0,788.0 629.5,791.0 631.0,790.8 632.5,790.9 634.0,792.7 635.5,791.5 637.0,791.6 638.5,792.7 640.0,791.4 641.5,789.1 643.0,794.0 644.5,791.7 646.0,794.2 647.5,793.9 649.0,791.4 650.5,791.9 652.0,792.3 653.5,791.9 655.0,793.7 656.5,793.2 658.0,792.1 659.5,792.9 661.0,791.3 662.5,792.3 664.0,791.8 665.5,794.5 667.0,793.5 668.5,793.3 670.0,794.4 671.5,793.4 673.0,789.8 674.5,793.1 676.0,794.5 677.5,792.4 679.0,790.4 680.5,792.5 682.0,793.4 683.5,793.6 685.0,793.3 686.5,793.6 688.0,793.7 689.5,793.9 691.0,793.7 692.5,794.1 694.0,791.9 695.5,791.1 697.0,792.7 698.5,791.9 700.0,793.2 701.5,794.0 703.0,793.4 704.5,792.6 706.0,794.0 707.5,794.7 709.0,795.0 710.5,794.2 712.0,795.2 713.5,794.3 715.0,793.5 716.5,794.2 718.0,794.3 719.5,795.4 721.0,794.9 722.5,794.1 724.0,794.1M727.0,796.0 728.5,792.3 730.0,795.5 731.5,793.7 733.0,795.7 734.5,795.2 736.0,795.2 737.5,795.6 739.0,794.0 740.5,793.9 742.0,795.3 743.5,794.8 745.0,796.6 746.5,796.8 748.0,794.5 749.5,794.9 751.0,799.0 752.5,798.2 754.0,796.5 755.5,795.6 757.0,795.0 758.5,797.1 760.0,797.3 761.5,798.5 763.0,797.1 764.5,797.9 766.0,797.4"/>
<path d="M148.0,958.1 149.5,959.5 151.0,959.1 152.5,960.3 154.0,960.2 155.5,958.8 157.0,956.4 158.5,958.2 160.0,957.2 161.5,957.6 163.0,956.8 164.5,953.6 166.0,957.5 167.5,957.9 169.0,958.9 170.5,958.1 172.0,959.6 173.5,959.1 175.0,958.4 176.5,958.7 178.0,958.6 179.5,957.8 181.0,960.5 182.5,955.4 184.0,958.8 185.5,957.2 187.0,959.0 188.5,959.9 190.0,959.8 191.5,959.4 193.0,957.8 194.5,958.2 196.0,958.6 197.5,957.6 199.0,956.8 200.5,957.7 202.0,955.2 203.5,955.5 205.0,956.8 206.5,956.3 208.0,955.9 209.5,959.2 211.0,956.4 212.5,956.3 214.0,956.8 215.5,957.6 217.0,956.5 218.5,956.9 220.0,958.6 221.5,958.0 223.0,957.7 224.5,958.3 226.0,956.9 227.5,957.4 229.0,957.0 230.5,957.5 232.0,953.0 233.5,956.3 235.0,956.9 236.5,955.9 238.0,955.1 239.5,957.7 241.0,954.4 242.5,954.0 244.0,954.3 245.5,955.4 247.0,952.0 248.5,954.2 250.0,953.5 251.5,952.3 253.0,952.6 254.5,957.8 256.0,956.0 257.5,958.2 259.0,961.3 260.5,958.8 262.0,961.2 263.5,959.0 265.0,957.9 266.5,954.5 268.0,952.9 269.5,949.6 271.0,947.6 272.5,944.8 274.0,943.0 275.5,938.8 277.0,934.6 278.5,935.3 280.0,932.0 281.5,930.7 283.0,928.6 284.5,924.4 286.0,922.9 287.5,919.9 289.0,916.8 290.5,915.7 292.0,913.1 293.5,910.1 295.0,907.5 296.5,906.7 298.0,902.5 299.5,904.1 301.0,901.3 302.5,898.9 304.0,896.6 305.5,893.8 307.0,890.7 308.5,890.2 310.0,887.7 311.5,887.2 313.0,883.5 314.5,881.3 316.0,880.8 317.5,877.1 319.0,877.1 320.5,873.5 322.0,878.2 323.5,868.7 325.0,869.6 326.5,868.1 328.0,865.5 329.5,866.9 331.0,863.0 332.5,861.5 334.0,857.5 335.5,857.4 337.0,857.8 338.5,852.9 340.0,852.4 341.5,852.4 343.0,848.9 344.5,847.8 346.0,849.8 347.5,848.8 349.0,847.8 350.5,845.7 352.0,842.5 353.5,842.0 355.0,842.7 356.5,840.7 358.0,840.9 359.5,840.1 361.0,837.6 362.5,835.7 364.0,833.3 365.5,832.6 367.0,834.2 368.5,831.7 370.0,830.3 371.5,831.5 373.0,826.8 374.5,828.2 376.0,829.7 377.5,827.4 379.0,827.1 380.5,826.6 382.0,824.7 383.5,824.7 385.0,822.5 386.5,823.5 388.0,826.3 389.5,823.7 391.0,823.2 392.5,824.4 394.0,824.4 395.5,823.0 397.0,820.0 398.5,821.5 400.0,817.2 401.5,821.4 403.0,818.6 404.5,820.7 406.0,818.8 407.5,818.8 409.0,818.8 410.5,816.7 412.0,815.8 413.5,816.5 415.0,813.7 416.5,816.1 418.0,817.3 419.5,817.4 421.0,815.0 422.5,816.1 424.0,816.4 425.5,815.3 427.0,817.7 428.5,815.9 430.0,816.6 431.5,815.3 433.0,816.4 434.5,817.3 436.0,818.2 437.5,814.7 439.0,816.0 440.5,816.6 442.0,817.0 443.5,815.5 445.0,815.4 446.5,815.9 448.0,814.9 449.5,812.1 451.0,815.1 452.5,814.1 454.0,814.6 455.5,813.9 457.0,813.8 458.5,814.0 460.0,815.9 461.5,815.9 463.0,813.3 464.5,814.0 466.0,815.5 467.5,813.7 469.0,815.6 470.5,814.7 472.0,816.4 473.5,815.6 475.0,814.4 476.5,814.5 478.0,812.7 479.5,813.3 481.0,813.7 482.5,812.7 484.0,812.8 485.5,811.9 487.0,813.1 488.5,813.9 490.0,812.5 491.5,812.6 493.0,812.5 494.5,813.2 496.0,810.4 497.5,812.6 499.0,812.6 500.5,811.2 502.0,813.6 503.5,814.5 505.0,813.3 506.5,812.2 508.0,813.1 509.5,813.8 511.0,813.7 512.5,817.4 514.0,815.2 515.5,814.3 517.0,811.9 518.5,814.6 520.0,814.9 521.5,815.4 523.0,814.1 524.5,813.8 526.0,811.7 527.5,810.4 529.0,812.8 530.5,811.5 532.0,812.6 533.5,811.9 535.0,812.4 536.5,814.2 538.0,812.5 539.5,812.4 541.0,812.7 542.5,812.3 544.0,809.9 545.5,812.3 547.0,811.9 548.5,811.5 550.0,810.7 551.5,810.4 553.0,812.3 554.5,810.8 556.0,809.2 557.5,811.6 559.0,810.0 560.5,812.3 562.0,810.7 563.5,812.8 565.0,813.8 566.5,812.4 568.0,812.4 569.5,810.2 571.0,809.7 572.5,812.1 574.0,811.3 575.5,811.0 577.0,812.1 578.5,811.7 580.0,810.1 581.5,811.4 583.0,813.3 584.5,810.5 586.0,809.3 587.5,809.1 589.0,808.7 590.5,808.7 592.0,807.6 593.5,809.3 595.0,807.9 596.5,808.5 598.0,808.7 599.5,810.8 601.0,810.1 602.5,810.3 604.0,811.3 605.5,810.5 607.0,808.6 608.5,808.0 610.0,807.6 611.5,807.9 613.0,809.5 614.5,807.2 616.0,807.8M619.0,808.2 620.5,809.8 622.0,808.6 623.5,807.3 625.0,808.7 626.5,808.7 628.0,808.6 629.5,811.5 631.0,809.5 632.5,806.2 634.0,808.3 635.5,809.2 637.0,807.6 638.5,807.9 640.0,806.4 641.5,808.8 643.0,807.3 644.5,806.4 646.0,807.0 647.5,806.1 649.0,808.1 650.5,809.3 652.0,810.2 653.5,809.2 655.0,807.3 656.5,805.8 658.0,807.5 659.5,809.5 661.0,808.7 662.5,809.0 664.0,808.9 665.5,808.5 667.0,809.6 668.5,810.3 670.0,809.6 671.5,811.2 673.0,810.7 674.5,810.3 676.0,809.1 677.5,810.2 679.0,810.9 680.5,812.2 682.0,810.5 683.5,809.7 685.0,810.7 686.5,809.5 688.0,809.1 689.5,809.5 691.0,812.3 692.5,809.9 694.0,812.0 695.5,814.3 697.0,813.3 698.5,811.6 700.0,814.1 701.5,813.4 703.0,814.3 704.5,815.6 706.0,812.2 707.5,811.6 709.0,810.7 710.5,811.6 712.0,809.6 713.5,810.1 715.0,810.8 716.5,810.6 718.0,811.2 719.5,812.1 721.0,812.8 722.5,811.8 724.0,811.5M727.0,814.7 728.5,812.4 730.0,812.6 731.5,813.8 733.0,813.4 734.5,812.4 736.0,812.6 737.5,812.9 739.0,812.3 740.5,812.8 742.0,814.6 743.5,812.8 745.0,815.0 746.5,813.5 748.0,814.0 749.5,814.4 751.0,812.8 752.5,815.3 754.0,813.5 755.5,813.8 757.0,815.3 758.5,815.7 760.0,814.7 761.5,814.6 763.0,815.3 764.5,814.3 766.0,818.3"/>
<path d="M148.0,977.5 149.5,977.5 151.0,978.0 152.5,978.2 154.0,978.0 155.5,979.2 157.0,978.5 158.5,979.9 160.0,979.3 161.5,978.9 163.0,980.6 164.5,977.6 166.0,977.6 167.5,977.1 169.0,976.3 170.5,976.8 172.0,977.0 173.5,978.3 175.0,977.5 176.5,977.8 178.0,976.0 179.5,975.4 181.0,974.1 182.5,975.9 184.0,977.3 185.5,974.6 187.0,975.9 188.5,975.0 190.0,975.4 191.5,975.5 193.0,975.8 194.5,975.8 196.0,972.9 197.5,975.3 199.0,974.9 200.5,975.0 202.0,975.8 203.5,974.7 205.0,977.0 206.5,975.2 208.0,974.2 209.5,976.3 211.0,977.5 212.5,972.3 214.0,976.6 215.5,973.2 217.0,973.7 218.5,974.4 220.0,974.2 221.5,977.1 223.0,974.8 224.5,973.3 226.0,973.3 227.5,975.6 229.0,972.5 230.5,974.7 232.0,974.0 233.5,975.4 235.0,975.4 236.5,975.7 238.0,971.8 239.5,973.5 241.0,971.2 242.5,971.1 244.0,973.9 245.5,970.4 247.0,972.0 248.5,971.7 250.0,974.2 251.5,975.2 253.0,974.9 254.5,976.4 256.0,976.5 257.5,977.6 259.0,975.5 260.5,978.2 262.0,978.1 263.5,976.9 265.0,974.6 266.5,972.9 268.0,968.4 269.5,965.7 271.0,964.6 272.5,961.2 274.0,959.1 275.5,956.6 277.0,954.8 278.5,948.8 280.0,947.9 281.5,944.0 283.0,940.4 284.5,939.9 286.0,936.4 287.5,931.9 289.0,931.1 290.5,927.8 292.0,925.6 293.5,924.5 295.0,920.4 296.5,920.3 298.0,916.1 299.5,915.8 301.0,912.3 302.5,909.1 304.0,908.5 305.5,907.9 307.0,907.4 308.5,902.7 310.0,901.3 311.5,898.2 313.0,894.7 314.5,895.3 316.0,892.7 317.5,890.8 319.0,890.3 320.5,884.9 322.0,882.4 323.5,881.3 325.0,881.4 326.5,878.8 328.0,877.4 329.5,874.1 331.0,874.1 332.5,873.1 334.0,871.6 335.5,870.5 337.0,867.7 338.5,869.0 340.0,865.3 341.5,863.5 343.0,861.5 344.5,862.0 346.0,861.9 347.5,861.7 349.0,861.8 350.5,859.4 352.0,860.9 353.5,860.0 355.0,857.9 356.5,857.7 358.0,853.2 359.5,853.9 361.0,853.5 362.5,853.4 364.0,851.7 365.5,853.8 367.0,851.1 368.5,848.4 370.0,848.3 371.5,846.6 373.0,845.0 374.5,845.9 376.0,844.8 377.5,843.3 379.0,842.1 380.5,844.2 382.0,842.9 383.5,840.1 385.0,839.3 386.5,839.2 388.0,839.9 389.5,838.0 391.0,836.8 392.5,838.0 394.0,835.2 395.5,839.2 397.0,836.1 398.5,834.9 400.0,836.3 401.5,834.0 403.0,834.9 404.5,835.0 406.0,834.3 407.5,832.8 409.0,833.0 410.5,830.6 412.0,830.7 413.5,831.0 415.0,829.5 416.5,834.0 418.0,832.6 419.5,831.3 421.0,830.8 422.5,830.6 424.0,829.8 425.5,831.3 427.0,829.3 428.5,830.1 430.0,829.8 431.5,828.5 433.0,829.4 434.5,830.2 436.0,830.2 437.5,831.7 439.0,831.2 440.5,828.2 442.0,827.2 443.5,827.0 445.0,828.1 446.5,828.6 448.0,830.5 449.5,829.0 451.0,827.1 452.5,826.2 454.0,829.1 455.5,829.2 457.0,828.0 458.5,828.5 460.0,826.0 461.5,826.8 463.0,826.3 464.5,824.0 466.0,825.6 467.5,826.8 469.0,825.1 470.5,826.6 472.0,828.9 473.5,827.9 475.0,825.1 476.5,827.8 478.0,826.4 479.5,828.4 481.0,826.6 482.5,831.0 484.0,830.2 485.5,827.4 487.0,830.0 488.5,828.2 490.0,826.9 491.5,827.7 493.0,828.3 494.5,829.8 496.0,827.3 497.5,828.3 499.0,829.0 500.5,829.0 502.0,828.2 503.5,829.6 505.0,829.9 506.5,829.1 508.0,831.1 509.5,829.8 511.0,829.1 512.5,828.2 514.0,830.1 515.5,828.5 517.0,827.7 518.5,827.9 520.0,828.0 521.5,828.7 523.0,826.5 524.5,825.7 526.0,827.1 527.5,826.9 529.0,825.8 530.5,826.5 532.0,825.4 533.5,824.9 535.0,824.2 536.5,826.5 538.0,825.7 539.5,824.7 541.0,824.5 542.5,825.0 544.0,827.4 545.5,825.2 547.0,826.2 548.5,824.5 550.0,822.9 551.5,825.2 553.0,824.4 554.5,824.1 556.0,826.0 557.5,825.7 559.0,825.2 560.5,825.5 562.0,822.2 563.5,826.1 565.0,825.4 566.5,827.4 568.0,823.2 569.5,825.0 571.0,823.8 572.5,824.4 574.0,825.3 575.5,826.3 577.0,825.9 578.5,823.6 580.0,823.7 581.5,824.0 583.0,825.3 584.5,825.6 586.0,824.8 587.5,824.0 589.0,823.9 590.5,823.8 592.0,822.6 593.5,822.3 595.0,823.3 596.5,823.1 598.0,822.6 599.5,821.7 601.0,822.0 602.5,821.5 604.0,820.5 605.5,817.7 607.0,821.6 608.5,818.5 610.0,818.3 611.5,821.2 613.0,819.5 614.5,822.1 616.0,820.5M619.0,819.2 620.5,821.5 622.0,822.5 623.5,820.8 625.0,822.2 626.5,822.1 628.0,819.2 629.5,819.9 631.0,822.3 632.5,817.1 634.0,821.2 635.5,819.4 637.0,820.6 638.5,821.6 640.0,819.1 641.5,820.2 643.0,820.9 644.5,821.0 646.0,821.3 647.5,821.4 649.0,821.0 650.5,821.6 652.0,821.1 653.5,822.3 655.0,822.3 656.5,819.3 658.0,819.8 659.5,820.4 661.0,822.6 662.5,821.5 664.0,821.9 665.5,819.5 667.0,821.2 668.5,821.3 670.0,821.3 671.5,820.0 673.0,820.2 674.5,821.6 676.0,821.7 677.5,820.6 679.0,822.3 680.5,820.3 682.0,822.4 683.5,821.9 685.0,822.0 686.5,823.9 688.0,821.8 689.5,822.1 691.0,822.0 692.5,820.5 694.0,822.1 695.5,823.0 697.0,822.4 698.5,820.9 700.0,820.7 701.5,822.6 703.0,821.9 704.5,824.1 706.0,821.8 707.5,822.0 709.0,824.8 710.5,822.7 712.0,823.1 713.5,824.8 715.0,821.8 716.5,823.2 718.0,822.8 719.5,824.3 721.0,825.9 722.5,824.8 724.0,823.6M727.0,824.0 728.5,823.0 730.0,826.8 731.5,826.3 733.0,823.7 734.5,822.0 736.0,823.0 737.5,821.8 739.0,826.0 740.5,823.1 742.0,824.7 743.5,824.2 745.0,822.5 746.5,824.1 748.0,823.6 749.5,824.3 751.0,822.7 752.5,823.6 754.0,823.2 755.5,822.5 757.0,824.5 758.5,824.0 760.0,823.3 761.5,824.2 763.0,823.5 764.5,824.1 766.0,823.1"/>
</g>
<rect x="962.5" y="284.7" width="125.5" height="161.3" fill="#c1c0e8" stroke="#3a3a3a" stroke-width="1.6"/>
<rect x="1111.3" y="309" width="124.8" height="137.0" fill="#3f3db4" stroke="#3a3a3a" stroke-width="1.6"/>
<rect x="1259.6" y="192.9" width="124.7" height="253.1" fill="#e8c0c1" stroke="#3a3a3a" stroke-width="1.6"/>
<rect x="1408.2" y="251.2" width="124.1" height="194.8" fill="#b23b3e" stroke="#3a3a3a" stroke-width="1.6"/>
<g stroke="#5e5e5e" stroke-width="2" fill="none">
<path d="M949,117.8 V529.6 H1543.8"/>
<path d="M938.5,117.8 H949"/>
<path d="M938.5,199.8 H949"/>
<path d="M938.5,281.9 H949"/>
<path d="M938.5,363.9 H949"/>
<path d="M938.5,446.0 H949"/>
<path d="M938.5,528.0 H949"/>
<path d="M1025.3,529.6 V540"/>
<path d="M1173.3,529.6 V540"/>
<path d="M1321.5,529.6 V540"/>
<path d="M1469.5,529.6 V540"/>
</g>
<path d="M938.5,446.0 H1570" stroke="#4a4a4a" stroke-width="2" fill="none"/>
<g stroke="#2a2a2a" stroke-width="1.6" fill="none">
<path d="M1025.4,251.1 V317.1 M1020.4000000000001,251.1 H1030.4 M1020.4000000000001,317.1 H1030.4"/>
<path d="M1173.6,282.7 V333.6 M1168.6,282.7 H1178.6 M1168.6,333.6 H1178.6"/>
<path d="M1322.2,143.8 V239.6 M1317.2,143.8 H1327.2 M1317.2,239.6 H1327.2"/>
<path d="M1470,228.1 V272 M1465,228.1 H1475 M1465,272 H1475"/>
</g>
<text x="933" y="124.7" font-size="20.5" text-anchor="end" font-weight="normal" fill="#222" stroke="#222" stroke-width="0.45">0.4</text>
<text x="933" y="206.8" font-size="20.5" text-anchor="end" font-weight="normal" fill="#222" stroke="#222" stroke-width="0.45">0.3</text>
<text x="933" y="288.8" font-size="20.5" text-anchor="end" font-weight="normal" fill="#222" stroke="#222" stroke-width="0.45">0.2</text>
<text x="933" y="370.8" font-size="20.5" text-anchor="end" font-weight="normal" fill="#222" stroke="#222" stroke-width="0.45">0.1</text>
<text x="933" y="452.9" font-size="20.5" text-anchor="end" font-weight="normal" fill="#222" stroke="#222" stroke-width="0.45">0.0</text>
<text x="933" y="534.9" font-size="20.5" text-anchor="end" font-weight="normal" fill="#222" stroke="#222" stroke-width="0.45">-0.1</text>
<text x="1025.3" y="564.2" font-size="18.7" text-anchor="middle" font-weight="normal" fill="#222" stroke="#222" stroke-width="0.3">AVP day</text>
<text x="1173.3" y="564.2" font-size="18.7" text-anchor="middle" font-weight="normal" fill="#222" stroke="#222" stroke-width="0.3">AVP night</text>
<text x="1321.5" y="564.2" font-size="18.7" text-anchor="middle" font-weight="normal" fill="#222" stroke="#222" stroke-width="0.3">VIP day</text>
<text x="1469.5" y="564.2" font-size="18.7" text-anchor="middle" font-weight="normal" fill="#222" stroke="#222" stroke-width="0.3">VIP night</text>
<text x="1023.5" y="589.5" font-size="20.6" text-anchor="middle" font-weight="bold" fill="#111" >4 (59)</text>
<text x="1172.8" y="587.8" font-size="20.6" text-anchor="middle" font-weight="bold" fill="#111" >5 (45)</text>
<text x="1321.9" y="590.5" font-size="20.6" text-anchor="middle" font-weight="bold" fill="#111" >4 (90)</text>
<text x="1470" y="586.7" font-size="20.6" text-anchor="middle" font-weight="bold" fill="#111" >3 (57)</text>
<rect x="959.8" y="917" width="115.0" height="78.2" fill="#c1c0e8" stroke="#3a3a3a" stroke-width="1.6"/>
<rect x="1104.3" y="877.2" width="115.0" height="118.0" fill="#3f3db4" stroke="#3a3a3a" stroke-width="1.6"/>
<rect x="1249.6" y="763" width="114.7" height="232.2" fill="#e8c0c1" stroke="#3a3a3a" stroke-width="1.6"/>
<rect x="1394.8" y="825.1" width="114.0" height="170.1" fill="#b23b3e" stroke="#3a3a3a" stroke-width="1.6"/>
<g stroke="#5e5e5e" stroke-width="2" fill="none">
<path d="M942.6,681.7 V1075.5 H1524.3"/>
<path d="M932.1,681.7 H942.6"/>
<path d="M932.1,760.1 H942.6"/>
<path d="M932.1,838.5 H942.6"/>
<path d="M932.1,916.8 H942.6"/>
<path d="M932.1,995.2 H942.6"/>
<path d="M932.1,1073.6 H942.6"/>
<path d="M1016.7,1075.5 V1084.8"/>
<path d="M1161.8,1075.5 V1084.8"/>
<path d="M1306.8,1075.5 V1084.8"/>
<path d="M1451.9,1075.5 V1084.8"/>
</g>
<path d="M932.1,995.2 H1533.4" stroke="#4a4a4a" stroke-width="2" fill="none"/>
<g stroke="#2a2a2a" stroke-width="1.6" fill="none">
<path d="M1017,906.9 V925.9 M1012,906.9 H1022 M1012,925.9 H1022"/>
<path d="M1161.9,825.1 V927 M1156.9,825.1 H1166.9 M1156.9,927 H1166.9"/>
<path d="M1307,748.9 V775.6 M1302,748.9 H1312 M1302,775.6 H1312"/>
<path d="M1451.7,795.6 V853.2 M1446.7,795.6 H1456.7 M1446.7,853.2 H1456.7"/>
</g>
<text x="926.6" y="688.6" font-size="19.5" text-anchor="end" font-weight="normal" fill="#222" stroke="#222" stroke-width="0.45">0.4</text>
<text x="926.6" y="767.0" font-size="19.5" text-anchor="end" font-weight="normal" fill="#222" stroke="#222" stroke-width="0.45">0.3</text>
<text x="926.6" y="845.4" font-size="19.5" text-anchor="end" font-weight="normal" fill="#222" stroke="#222" stroke-width="0.45">0.2</text>
<text x="926.6" y="923.7" font-size="19.5" text-anchor="end" font-weight="normal" fill="#222" stroke="#222" stroke-width="0.45">0.1</text>
<text x="926.6" y="1002.1" font-size="19.5" text-anchor="end" font-weight="normal" fill="#222" stroke="#222" stroke-width="0.45">0.0</text>
<text x="926.6" y="1080.5" font-size="19.5" text-anchor="end" font-weight="normal" fill="#222" stroke="#222" stroke-width="0.45">-0.1</text>
<text x="1016.7" y="1107.6" font-size="17.8" text-anchor="middle" font-weight="normal" fill="#222" stroke="#222" stroke-width="0.3">AVP day</text>
<text x="1161.8" y="1107.6" font-size="17.8" text-anchor="middle" font-weight="normal" fill="#222" stroke="#222" stroke-width="0.3">AVP night</text>
<text x="1306.8" y="1107.6" font-size="17.8" text-anchor="middle" font-weight="normal" fill="#222" stroke="#222" stroke-width="0.3">VIP day</text>
<text x="1451.9" y="1107.6" font-size="17.8" text-anchor="middle" font-weight="normal" fill="#222" stroke="#222" stroke-width="0.3">VIP night</text>
<text x="1018" y="1132.4" font-size="20.3" text-anchor="middle" font-weight="bold" fill="#111" >4 (48)</text>
<text x="1164.5" y="1133.3" font-size="20.3" text-anchor="middle" font-weight="bold" fill="#111" >4 (56)</text>
<text x="1310.5" y="1134.3" font-size="20.3" text-anchor="middle" font-weight="bold" fill="#111" >4 (64)</text>
<text x="1451.4" y="1133.3" font-size="20.3" text-anchor="middle" font-weight="bold" fill="#111" >4 (53)</text>
<g stroke="#2e2e2e" stroke-width="2" fill="none">
<path d="M1027.6,114.4 V108.0 Q1027.6,105.5 1030.1,105.5 H1171.2 Q1173.7,105.5 1173.7,108.0 V114.4"/>
<path d="M1098.1,105.5 V98.5 Q1098.1,96 1100.6,96 H1396.7 Q1399.2,96 1399.2,98.5 V103"/>
<path d="M1318.8,116 V110.3 Q1318.8,107.8 1321.3,107.8 H1477.6 Q1480.1,107.8 1480.1,110.3 V116"/>
<path d="M1017.1,700 V691.1 Q1017.1,688.6 1019.6,688.6 H1298.9 Q1301.4,688.6 1301.4,691.1 V699.5"/>
<path d="M1306.2,729 V719.2 Q1306.2,716.7 1308.7,716.7 H1459.3 Q1461.8,716.7 1461.8,719.2 V729"/>
</g>
<text x="1248.9" y="89.3" font-size="30" text-anchor="middle" font-weight="bold" fill="#000" style="font-family:'DejaVu Sans',sans-serif" stroke="#000" stroke-width="1.0" stroke-linejoin="round">*</text>
<text x="1167" y="680.3" font-size="30" text-anchor="middle" font-weight="bold" fill="#000" style="font-family:'DejaVu Sans',sans-serif" stroke="#000" stroke-width="1.0" stroke-linejoin="round" letter-spacing="4.2">***</text>
<text x="1386.6" y="711" font-size="30" text-anchor="middle" font-weight="bold" fill="#000" style="font-family:'DejaVu Sans',sans-serif" stroke="#000" stroke-width="1.0" stroke-linejoin="round">*</text>
<text x="823" y="105.3" font-size="59" text-anchor="start" font-weight="normal" fill="#000" >C</text>
<text x="819.5" y="663.8" font-size="59" text-anchor="start" font-weight="normal" fill="#000" >D</text>
<text x="965.5" y="504.2" font-size="35.5" text-anchor="start" font-weight="normal" fill="#000" >HCO<tspan font-size="23" dy="8">3</tspan></text>
<text x="957.5" y="1053.4" font-size="35.5" text-anchor="start" font-weight="normal" fill="#000" >HEPES</text>
<text transform="translate(870,357.8) rotate(-90) scale(1.1,1)" font-size="31.5" fill="#000" stroke="#000" stroke-width="0.5">Δ</text>
<text transform="translate(870,325) rotate(-90) scale(0.74,1)" font-size="33" fill="#000" stroke="#000" stroke-width="0.5">R<tspan font-size="24" dy="8">Cl</tspan></text>
<text transform="translate(869.3,911.4) rotate(-90) scale(1.1,1)" font-size="31.5" fill="#000" stroke="#000" stroke-width="0.5">Δ</text>
<text transform="translate(869.3,880.2) rotate(-90) scale(0.74,1)" font-size="33" fill="#000" stroke="#000" stroke-width="0.5">R<tspan font-size="24" dy="8">Cl</tspan></text>
<ellipse cx="1242" cy="4.2" rx="1.6" ry="1.1" fill="#9a9a9a"/>
</svg></body></html>
